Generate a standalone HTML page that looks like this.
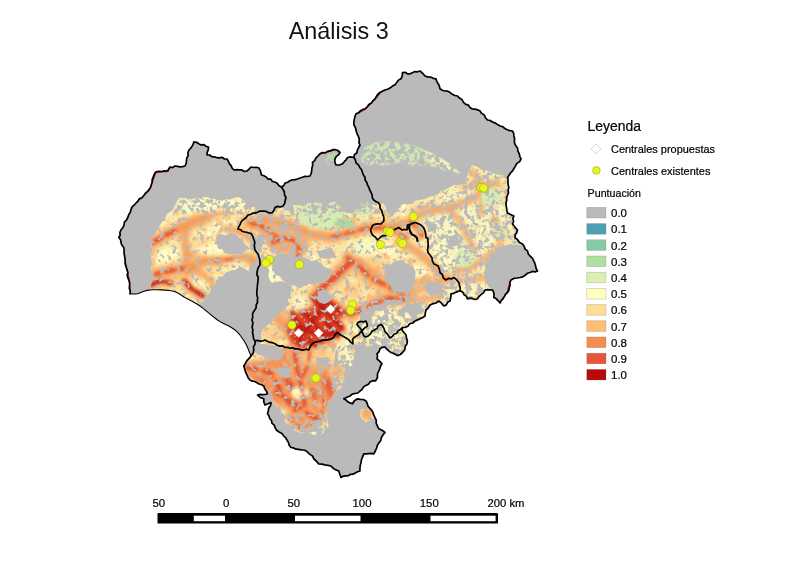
<!DOCTYPE html>
<html><head><meta charset="utf-8"><title>Análisis 3</title>
<style>html,body{margin:0;padding:0;background:#fff;font-family:"Liberation Sans",sans-serif}</style></head>
<body>
<svg width="800" height="566" viewBox="0 0 800 566" style="display:block">
<defs>
<clipPath id="mc"><path d="M194.0,142.0 L196.6,142.3 L198.8,143.8 L201.1,144.9 L203.9,144.7 L206.0,146.4 L208.5,147.0 L208.3,149.7 L207.2,152.3 L207.0,155.0 L209.6,155.0 L211.9,156.7 L214.4,156.8 L216.9,157.7 L219.4,157.8 L222.1,157.3 L224.4,159.0 L227.0,159.0 L228.4,161.2 L229.3,163.7 L231.1,165.6 L232.1,168.1 L234.0,170.0 L236.6,169.6 L239.2,169.8 L241.9,169.9 L244.4,171.4 L247.0,171.0 L249.1,169.1 L251.0,167.0 L253.6,167.5 L256.4,167.3 L259.0,168.0 L260.6,171.4 L261.5,175.0 L263.9,175.8 L266.2,176.9 L267.9,179.1 L270.8,179.1 L272.4,181.5 L275.0,182.0 L277.4,183.4 L279.0,185.7 L281.5,187.0 L283.8,185.5 L285.0,183.0 L287.6,182.4 L289.8,180.8 L292.3,179.9 L295.0,179.6 L297.5,179.0 L300.0,178.0 L302.5,177.3 L304.9,176.4 L307.5,176.5 L310.0,176.0 L311.2,173.4 L311.7,170.7 L311.9,168.0 L312.7,165.3 L312.5,162.5 L314.7,160.6 L316.0,157.9 L318.1,155.9 L320.0,153.8 L322.3,152.5 L325.2,152.9 L327.4,151.4 L330.0,150.9 L332.4,149.7 L335.0,149.5 L337.8,150.5 L340.0,152.5 L338.6,154.8 L336.4,156.4 L335.0,158.8 L334.8,162.0 L336.0,165.0 L339.4,165.0 L342.5,163.8 L344.3,161.7 L346.1,159.8 L347.5,157.5 L350.6,156.9 L353.8,157.5 L354.4,154.7 L356.9,152.8 L357.4,149.9 L358.7,147.5 L360.0,145.0 L358.9,142.6 L359.3,139.8 L358.8,137.3 L357.6,134.9 L356.6,132.5 L356.0,130.0 L355.4,127.5 L354.0,125.1 L353.8,122.5 L354.3,119.5 L354.9,116.6 L356.0,113.8 L358.5,112.9 L360.3,110.9 L362.6,109.6 L365.0,108.8 L367.2,106.9 L368.8,104.5 L371.4,103.1 L373.0,100.7 L375.0,98.8 L376.4,96.5 L377.8,94.2 L380.0,92.5 L382.8,90.9 L385.8,89.8 L388.8,88.8 L391.0,87.3 L393.0,85.7 L395.4,84.4 L396.9,82.1 L398.6,80.0 L401.0,78.8 L402.3,75.7 L402.5,72.5 L405.1,72.3 L407.4,73.8 L410.0,73.8 L412.4,72.7 L414.8,71.6 L417.5,71.8 L420.0,71.0 L422.7,73.3 L425.0,76.0 L427.7,76.9 L430.6,77.1 L433.2,78.3 L436.0,78.8 L436.7,81.4 L438.2,83.7 L439.4,86.1 L440.0,88.8 L442.3,90.3 L444.9,91.0 L447.8,91.2 L450.1,92.6 L452.4,94.2 L454.8,95.5 L457.5,96.0 L459.4,98.1 L462.0,99.5 L463.3,102.2 L465.4,104.1 L468.3,105.1 L470.0,107.5 L472.3,109.0 L475.0,109.2 L477.6,109.8 L480.0,111.0 L481.7,113.4 L484.3,115.0 L485.5,117.8 L487.5,120.0 L490.3,120.5 L492.6,122.1 L495.3,123.0 L497.6,124.6 L500.0,126.0 L502.7,126.6 L504.8,128.5 L507.2,129.7 L509.8,130.6 L512.5,131.0 L513.7,133.3 L513.9,135.9 L514.6,138.4 L514.4,141.1 L514.7,143.7 L516.0,146.0 L517.6,148.3 L517.9,151.1 L519.2,153.6 L519.8,156.3 L521.0,158.8 L519.7,161.6 L516.9,163.4 L515.4,166.1 L513.8,168.8 L512.4,171.1 L510.5,173.0 L509.1,175.3 L507.5,177.5 L508.1,180.0 L507.9,182.5 L508.2,185.0 L508.8,187.5 L508.1,190.0 L508.5,192.6 L507.6,195.0 L506.6,197.4 L506.8,200.0 L506.1,202.5 L506.0,205.0 L506.5,207.7 L506.9,210.4 L507.5,213.0 L510.6,214.5 L513.8,216.0 L512.9,218.6 L513.6,221.4 L512.5,224.0 L514.1,226.0 L515.7,228.1 L517.5,230.0 L516.8,232.5 L515.2,234.8 L515.0,237.5 L517.5,239.6 L519.5,242.4 L522.5,244.0 L524.2,246.3 L525.0,249.1 L527.5,250.9 L528.2,253.8 L530.0,256.0 L532.4,258.1 L533.8,261.0 L534.9,263.4 L535.6,266.0 L536.2,268.6 L537.5,271.0 L535.1,271.9 L532.4,271.4 L530.0,272.5 L527.3,273.3 L525.1,275.3 L522.8,276.9 L520.0,277.5 L516.9,278.0 L513.8,278.4 L511.0,280.0 L509.9,282.4 L510.1,285.1 L509.3,287.6 L508.9,290.2 L507.5,292.5 L505.5,294.3 L504.4,296.6 L503.0,298.8 L501.2,300.7 L500.0,303.0 L498.2,300.8 L496.3,298.8 L493.8,297.5 L494.0,294.9 L493.7,292.4 L492.5,290.0 L490.0,289.8 L487.5,289.7 L485.0,290.0 L483.6,292.6 L481.3,294.4 L479.1,296.3 L477.5,298.8 L475.0,299.5 L472.5,298.7 L470.0,298.2 L467.5,298.8 L466.4,296.4 L464.2,294.9 L463.0,292.7 L461.0,291.0 L458.8,291.0 L456.2,292.1 L453.8,293.3 L451.0,293.8 L450.8,297.4 L450.0,301.0 L447.6,302.3 L446.3,304.9 L443.8,306.0 L441.5,303.2 L438.8,301.0 L435.9,303.0 L432.5,303.8 L429.8,305.3 L428.2,308.0 L426.0,310.0 L425.3,313.0 L425.0,316.0 L422.7,317.6 L420.1,318.8 L417.6,319.9 L415.0,321.0 L412.8,323.0 L409.7,323.8 L407.8,326.3 L405.0,327.5 L402.5,327.5 L402.0,330.0 L403.9,332.5 L406.0,335.0 L406.5,337.9 L407.4,340.7 L407.0,343.8 L405.2,346.5 L404.7,349.9 L402.5,352.5 L400.3,354.5 L397.5,355.6 L394.3,353.8 L391.0,352.5 L388.8,350.9 L386.8,349.1 L385.0,347.0 L382.3,347.3 L380.0,348.8 L379.1,351.6 L377.0,353.8 L377.5,356.2 L377.0,358.8 L379.6,361.2 L382.0,363.8 L380.6,366.0 L379.8,368.6 L378.8,371.0 L377.4,374.1 L377.5,377.5 L375.6,380.8 L372.7,380.7 L370.0,382.0 L368.4,384.2 L365.8,385.4 L363.6,386.9 L362.1,389.3 L360.0,391.0 L357.9,393.0 L355.0,393.5 L352.2,394.1 L350.0,396.0 L346.9,397.3 L343.8,398.8 L346.0,399.9 L347.8,401.8 L350.1,402.9 L352.5,403.8 L354.4,400.7 L357.5,398.8 L360.4,399.3 L363.4,399.5 L366.0,401.0 L367.2,403.4 L367.9,406.0 L369.7,408.1 L371.6,410.1 L372.9,412.4 L373.8,415.0 L375.0,417.7 L376.3,420.3 L376.2,423.4 L377.5,426.1 L378.8,428.8 L382.1,430.3 L385.0,432.5 L383.1,434.7 L381.5,437.2 L380.9,440.2 L379.2,442.6 L377.5,445.0 L376.6,448.1 L375.3,451.0 L373.8,453.8 L371.2,453.4 L368.8,453.6 L366.2,453.9 L363.8,453.8 L362.7,456.6 L361.5,459.5 L361.0,462.5 L360.3,465.3 L359.9,468.1 L360.0,471.0 L357.6,471.7 L355.3,472.9 L353.1,474.2 L350.5,474.3 L348.3,475.7 L345.8,475.9 L343.2,476.2 L341.0,477.5 L339.8,474.3 L338.8,471.0 L335.8,469.9 L333.2,468.3 L331.0,466.0 L327.9,465.4 L324.9,464.8 L321.9,464.1 L318.8,463.8 L316.5,461.3 L314.0,459.0 L312.5,456.0 L310.3,454.6 L308.2,452.9 L306.3,451.0 L303.8,450.0 L301.1,449.9 L298.6,449.4 L296.0,449.2 L293.6,447.9 L291.0,447.5 L289.3,445.4 L288.5,442.6 L287.1,440.3 L285.8,437.9 L283.8,436.0 L281.9,433.5 L279.1,432.0 L276.6,430.2 L275.0,427.5 L274.1,425.0 L271.9,423.2 L271.5,420.5 L269.7,418.5 L269.0,415.9 L267.5,413.8 L268.3,410.9 L268.8,408.0 L270.6,405.5 L271.0,402.5 L268.0,403.8 L265.0,405.0 L263.8,402.0 L263.8,398.8 L260.2,397.5 L257.5,395.0 L260.0,394.4 L262.5,394.7 L265.1,394.5 L267.5,393.8 L266.4,391.1 L264.7,388.7 L263.8,386.0 L261.6,384.7 L259.2,384.0 L257.0,382.7 L254.8,381.5 L252.2,381.2 L250.0,380.0 L248.1,377.8 L247.1,375.2 L245.8,372.7 L245.0,370.0 L243.8,366.0 L245.5,363.4 L246.9,360.7 L249.1,358.4 L251.0,356.0 L250.4,354.5 L249.6,352.5 L248.6,350.0 L247.5,347.4 L246.3,344.8 L245.0,342.5 L243.7,340.3 L242.2,338.2 L240.7,336.0 L239.0,333.9 L237.1,331.9 L235.0,330.0 L232.5,328.2 L229.7,326.6 L226.7,325.1 L223.6,323.5 L220.5,321.9 L217.5,320.0 L214.6,317.8 L211.6,315.4 L208.6,312.9 L205.6,310.4 L202.8,308.1 L200.0,306.0 L197.3,304.2 L194.7,302.7 L192.2,301.3 L189.7,300.0 L187.3,298.7 L185.0,297.5 L182.9,296.2 L181.0,295.0 L179.2,293.8 L177.3,292.7 L175.1,291.7 L172.5,291.0 L169.2,290.5 L165.4,290.1 L161.2,289.9 L157.1,289.8 L153.3,289.8 L150.0,290.0 L147.3,290.4 L144.9,291.0 L142.8,291.8 L140.9,292.6 L139.2,293.3 L137.5,293.8 L135.9,294.0 L134.4,294.0 L133.0,294.0 L131.8,293.9 L130.8,293.8 L130.0,293.8 L130.2,291.0 L129.3,288.3 L129.6,285.5 L129.6,282.7 L128.8,280.0 L127.8,277.6 L127.2,275.1 L127.9,272.3 L127.0,269.9 L126.3,267.4 L125.5,265.0 L125.0,262.5 L125.2,260.0 L124.8,257.5 L124.4,255.0 L124.0,252.5 L124.1,250.0 L123.8,247.5 L121.9,245.3 L121.0,242.6 L120.6,239.7 L118.8,237.5 L120.2,235.2 L119.9,232.4 L121.0,230.0 L122.8,227.7 L124.1,225.2 L124.4,222.1 L126.5,220.0 L127.8,217.5 L128.7,214.8 L130.2,212.4 L131.0,209.6 L132.0,207.0 L134.1,205.2 L135.8,203.2 L137.9,201.4 L139.2,198.9 L141.9,197.8 L143.7,195.8 L145.2,193.4 L147.3,191.7 L149.0,189.6 L150.6,187.3 L151.3,184.7 L152.1,182.2 L152.2,179.3 L153.3,176.9 L154.2,174.4 L155.6,172.0 L158.5,171.3 L161.6,171.5 L164.5,170.8 L167.5,171.0 L170.0,167.0 L172.5,167.6 L175.0,166.0 L177.5,166.4 L180.0,166.9 L182.5,166.6 L185.0,166.0 L186.2,163.5 L186.5,160.7 L186.8,157.9 L188.2,155.5 L187.9,152.5 L189.0,150.0 L191.2,147.7 L192.8,144.9 Z"/></clipPath>
<clipPath id="hc"><path d="M179.5,197.5 L177.2,200.9 L175.4,204.7 L173.5,208.4 L171.0,211.7 L166.9,214.0 L165.4,217.9 L162.9,221.2 L160.4,224.5 L158.1,228.0 L156.2,231.7 L154.4,235.5 L151.6,238.6 L151.8,242.7 L151.5,246.8 L152.5,250.9 L150.6,255.0 L151.6,259.1 L151.6,263.2 L151.1,267.4 L152.4,271.5 L150.8,275.6 L152.3,279.7 L151.5,283.8 L150.3,287.9 L151.0,292.0 L155.2,292.8 L159.3,292.4 L163.5,292.0 L167.7,291.8 L171.8,292.4 L176.0,292.0 L180.8,295.4 L186.0,298.0 L190.3,300.8 L195.1,302.6 L200.0,304.0 L203.7,300.3 L206.5,295.8 L210.0,292.0 L211.0,287.8 L214.7,285.1 L216.0,281.0 L219.2,278.0 L222.9,275.9 L225.9,272.6 L230.0,271.0 L235.5,269.4 L240.0,266.0 L245.1,268.8 L250.0,272.0 L257.0,270.0 L256.6,266.0 L256.0,262.0 L256.1,257.5 L255.5,253.0 L256.5,248.5 L255.4,244.0 L255.0,239.5 L255.0,235.0 L250.9,233.0 L246.8,231.2 L242.6,229.6 L238.0,229.0 L240.0,225.2 L242.3,221.5 L246.4,219.2 L248.0,215.0 L252.0,213.8 L256.2,213.6 L260.3,213.2 L264.0,211.0 L259.3,209.4 L254.8,207.2 L250.0,206.0 L245.8,203.3 L242.6,199.2 L238.0,197.0 L234.0,198.0 L230.2,199.7 L225.9,199.5 L222.0,201.0 L216.4,199.7 L211.0,198.0 L206.5,196.8 L202.0,197.6 L197.5,198.5 L193.0,198.4 L188.5,198.0 L184.0,198.4 Z"/><path d="M250.0,215.0 L254.4,214.7 L258.7,213.0 L263.1,213.2 L267.5,212.4 L272.0,213.0 L275.5,210.7 L279.1,208.6 L283.0,207.0 L287.1,205.7 L291.5,205.6 L295.8,205.1 L300.0,204.0 L304.3,204.8 L308.6,203.4 L312.8,203.3 L317.1,202.3 L321.4,203.2 L325.7,203.7 L330.0,203.0 L334.2,201.7 L338.6,203.8 L342.9,203.3 L347.1,201.5 L351.5,203.2 L355.7,202.2 L360.0,202.0 L364.6,202.9 L369.3,202.5 L374.0,203.0 L378.3,204.0 L382.7,203.6 L386.9,205.0 L391.3,204.9 L395.5,206.5 L400.0,206.0 L403.7,203.9 L408.1,204.0 L412.3,203.5 L415.8,200.4 L420.0,200.0 L424.4,199.1 L428.5,197.3 L432.6,195.7 L437.0,195.0 L440.7,191.4 L445.7,189.8 L450.0,187.0 L454.8,184.8 L460.3,184.5 L465.0,182.0 L466.8,177.8 L467.5,173.1 L470.0,169.2 L472.0,165.0 L477.3,166.9 L482.0,170.0 L486.7,170.6 L491.1,172.2 L495.4,174.1 L500.0,175.0 L504.5,175.7 L509.0,176.0 L509.1,181.5 L510.0,187.0 L508.8,191.4 L509.1,196.1 L508.1,200.6 L507.0,205.0 L510.5,208.1 L513.2,211.7 L515.0,216.0 L515.0,220.1 L514.0,224.0 L519.0,230.0 L516.0,237.0 L520.3,240.2 L524.0,244.0 L520.0,244.8 L515.9,244.1 L511.9,244.9 L507.9,244.8 L503.9,246.0 L500.0,247.0 L497.9,250.7 L494.1,252.8 L491.2,255.6 L489.7,259.8 L486.0,262.0 L486.7,266.0 L486.2,270.0 L485.7,274.0 L485.9,278.0 L486.0,282.0 L488.2,286.6 L492.0,290.0 L485.0,291.0 L482.8,294.5 L479.6,296.9 L477.0,300.0 L472.0,299.4 L467.0,300.0 L464.6,295.6 L461.0,292.0 L455.7,292.4 L451.0,295.0 L451.0,302.0 L447.5,304.5 L444.0,307.0 L439.0,302.0 L432.0,305.0 L427.0,311.0 L426.0,317.0 L421.9,317.7 L418.6,320.3 L415.0,322.0 L410.4,324.8 L406.0,328.0 L407.3,332.9 L407.4,338.0 L408.0,343.0 L406.7,347.0 L404.5,350.6 L402.0,354.0 L397.0,357.0 L391.0,354.0 L385.0,349.0 L380.7,348.0 L376.3,347.2 L372.0,346.0 L367.2,346.5 L362.5,345.6 L357.8,345.1 L353.0,345.0 L348.4,345.6 L344.2,347.3 L340.0,349.0 L335.8,350.1 L331.4,348.4 L327.1,348.8 L322.9,351.0 L318.6,351.5 L314.3,351.1 L310.0,351.0 L305.8,350.5 L301.7,349.8 L297.6,348.5 L293.2,350.2 L289.0,349.6 L285.0,348.0 L281.4,346.0 L277.6,344.7 L273.8,343.5 L269.6,343.7 L265.5,343.3 L262.0,341.0 L261.2,335.5 L262.0,330.0 L265.8,326.7 L269.4,323.2 L271.3,318.4 L275.0,315.0 L278.7,312.0 L280.7,307.5 L284.4,304.5 L286.3,300.0 L290.0,297.0 L291.4,291.6 L292.0,286.0 L288.2,283.9 L284.4,281.7 L280.0,281.0 L275.3,281.7 L270.8,282.9 L266.4,284.4 L262.0,286.0 L261.5,281.9 L260.3,277.8 L261.6,273.5 L259.9,269.5 L260.6,265.3 L260.9,261.1 L260.0,257.0 L258.9,252.6 L259.0,248.0 L256.2,244.0 L256.7,239.2 L255.0,235.0 L250.4,234.4 L246.2,232.9 L242.1,231.0 L238.0,229.0 L239.2,225.0 L242.0,222.0 L245.4,217.8 Z"/><path d="M246.0,362.0 L248.9,357.9 L252.0,354.0 L254.8,351.0 L257.0,347.5 L259.7,344.4 L262.0,341.0 L266.3,341.6 L270.2,343.9 L274.8,343.2 L279.1,343.5 L283.3,344.4 L287.3,346.6 L291.6,347.2 L295.8,348.1 L300.0,349.0 L304.0,348.0 L308.0,348.7 L312.0,350.1 L316.0,349.5 L320.0,349.3 L324.0,348.6 L328.0,348.2 L332.0,347.8 L336.0,348.2 L340.0,349.0 L344.3,347.1 L348.7,345.9 L353.0,344.0 L354.6,348.5 L354.9,353.2 L355.0,358.0 L353.0,361.5 L351.8,365.5 L348.1,368.0 L347.0,372.0 L345.4,376.0 L345.1,380.4 L342.2,383.9 L341.0,388.0 L337.6,391.0 L334.8,394.5 L332.0,398.0 L329.8,401.9 L328.0,406.0 L326.0,410.0 L326.6,415.1 L327.3,420.1 L329.0,425.0 L326.8,429.1 L323.8,432.4 L320.0,435.0 L314.9,435.0 L310.0,433.4 L305.0,433.0 L299.7,432.7 L295.0,430.2 L290.0,429.0 L286.3,425.3 L284.5,420.4 L282.0,416.0 L280.3,411.9 L277.8,408.3 L275.0,405.0 L273.3,400.7 L272.4,396.1 L270.0,392.0 L266.2,388.7 L262.0,386.0 L258.1,384.0 L254.2,382.2 L250.0,381.0 L248.6,377.2 L245.9,374.0 L245.0,370.0 L244.5,365.9 Z"/><path d="M361.0,409.0 L366.1,409.1 L371.0,408.0 L371.4,413.3 L374.0,418.0 L370.1,420.3 L366.0,422.0 L362.4,419.6 L360.0,416.0 Z"/></clipPath>
<clipPath id="nc"><path d="M361.0,149.0 L375.0,142.0 L395.0,140.5 L415.0,145.0 L435.0,154.0 L452.0,165.0 L462.0,174.0 L450.0,173.0 L438.0,168.0 L425.0,166.0 L412.0,166.0 L400.0,163.0 L385.0,166.0 L370.0,166.0 L361.0,163.0 Z"/><path d="M321.0,154.0 L335.0,150.0 L339.0,153.0 L334.0,160.0 L338.0,167.0 L328.0,166.0 Z"/></clipPath>
<filter id="b1" x="-30%" y="-30%" width="160%" height="160%"><feGaussianBlur stdDeviation="0.7"/></filter>
<filter id="b2" x="-30%" y="-30%" width="160%" height="160%"><feGaussianBlur stdDeviation="1.5"/></filter>
<filter id="b3" x="-30%" y="-30%" width="160%" height="160%"><feGaussianBlur stdDeviation="2.6"/></filter>
<filter id="b4" x="-30%" y="-30%" width="160%" height="160%"><feGaussianBlur stdDeviation="4"/></filter>
<filter id="ng" x="0" y="0" width="100%" height="100%" color-interpolation-filters="sRGB"><feTurbulence type="fractalNoise" baseFrequency="0.22" numOctaves="2" seed="5"/><feColorMatrix values="0 0 0 0 0.729  0 0 0 0 0.729  0 0 0 0 0.729  9 0 0 0 -5.15"/><feComposite in2="SourceGraphic" operator="in"/></filter>
<filter id="no" x="0" y="0" width="100%" height="100%" color-interpolation-filters="sRGB"><feTurbulence type="fractalNoise" baseFrequency="0.12" numOctaves="2" seed="9"/><feColorMatrix values="0 0 0 0 0.976  0 0 0 0 0.647  0 0 0 0 0.369  7 0 0 0 -3.9"/><feComposite in2="SourceGraphic" operator="in"/></filter>
<filter id="ny" x="0" y="0" width="100%" height="100%" color-interpolation-filters="sRGB"><feTurbulence type="fractalNoise" baseFrequency="0.15" numOctaves="2" seed="14"/><feColorMatrix values="0 0 0 0 1.000  0 0 0 0 0.988  0 0 0 0 0.761  7 0 0 0 -3.9"/><feComposite in2="SourceGraphic" operator="in"/></filter>
<filter id="nn" x="0" y="0" width="100%" height="100%" color-interpolation-filters="sRGB"><feTurbulence type="fractalNoise" baseFrequency="0.2" numOctaves="2" seed="21"/><feColorMatrix values="0 0 0 0 0.729  0 0 0 0 0.729  0 0 0 0 0.729  8 0 0 0 -3.7"/><feComposite in2="SourceGraphic" operator="in"/></filter>
<filter id="g35" x="0" y="0" width="100%" height="100%" color-interpolation-filters="sRGB"><feTurbulence type="fractalNoise" baseFrequency="0.2" numOctaves="2" seed="31"/><feColorMatrix values="0 0 0 0 0.729  0 0 0 0 0.729  0 0 0 0 0.729  9 0 0 0 -4.45"/><feComposite in2="SourceGraphic" operator="in"/></filter>
<filter id="g25" x="0" y="0" width="100%" height="100%" color-interpolation-filters="sRGB"><feTurbulence type="fractalNoise" baseFrequency="0.2" numOctaves="2" seed="33"/><feColorMatrix values="0 0 0 0 0.729  0 0 0 0 0.729  0 0 0 0 0.729  9 0 0 0 -4.7"/><feComposite in2="SourceGraphic" operator="in"/></filter>
<filter id="g50" x="0" y="0" width="100%" height="100%" color-interpolation-filters="sRGB"><feTurbulence type="fractalNoise" baseFrequency="0.18" numOctaves="2" seed="41"/><feColorMatrix values="0 0 0 0 0.729  0 0 0 0 0.729  0 0 0 0 0.729  9 0 0 0 -4.0"/><feComposite in2="SourceGraphic" operator="in"/></filter>
<filter id="g65" x="0" y="0" width="100%" height="100%" color-interpolation-filters="sRGB"><feTurbulence type="fractalNoise" baseFrequency="0.18" numOctaves="2" seed="51"/><feColorMatrix values="0 0 0 0 0.729  0 0 0 0 0.729  0 0 0 0 0.729  9 0 0 0 -3.6"/><feComposite in2="SourceGraphic" operator="in"/></filter>
</defs>
<rect width="800" height="566" fill="#fff"/>
<path d="M194.0,142.0 L196.6,142.3 L198.8,143.8 L201.1,144.9 L203.9,144.7 L206.0,146.4 L208.5,147.0 L208.3,149.7 L207.2,152.3 L207.0,155.0 L209.6,155.0 L211.9,156.7 L214.4,156.8 L216.9,157.7 L219.4,157.8 L222.1,157.3 L224.4,159.0 L227.0,159.0 L228.4,161.2 L229.3,163.7 L231.1,165.6 L232.1,168.1 L234.0,170.0 L236.6,169.6 L239.2,169.8 L241.9,169.9 L244.4,171.4 L247.0,171.0 L249.1,169.1 L251.0,167.0 L253.6,167.5 L256.4,167.3 L259.0,168.0 L260.6,171.4 L261.5,175.0 L263.9,175.8 L266.2,176.9 L267.9,179.1 L270.8,179.1 L272.4,181.5 L275.0,182.0 L277.4,183.4 L279.0,185.7 L281.5,187.0 L283.8,185.5 L285.0,183.0 L287.6,182.4 L289.8,180.8 L292.3,179.9 L295.0,179.6 L297.5,179.0 L300.0,178.0 L302.5,177.3 L304.9,176.4 L307.5,176.5 L310.0,176.0 L311.2,173.4 L311.7,170.7 L311.9,168.0 L312.7,165.3 L312.5,162.5 L314.7,160.6 L316.0,157.9 L318.1,155.9 L320.0,153.8 L322.3,152.5 L325.2,152.9 L327.4,151.4 L330.0,150.9 L332.4,149.7 L335.0,149.5 L337.8,150.5 L340.0,152.5 L338.6,154.8 L336.4,156.4 L335.0,158.8 L334.8,162.0 L336.0,165.0 L339.4,165.0 L342.5,163.8 L344.3,161.7 L346.1,159.8 L347.5,157.5 L350.6,156.9 L353.8,157.5 L354.4,154.7 L356.9,152.8 L357.4,149.9 L358.7,147.5 L360.0,145.0 L358.9,142.6 L359.3,139.8 L358.8,137.3 L357.6,134.9 L356.6,132.5 L356.0,130.0 L355.4,127.5 L354.0,125.1 L353.8,122.5 L354.3,119.5 L354.9,116.6 L356.0,113.8 L358.5,112.9 L360.3,110.9 L362.6,109.6 L365.0,108.8 L367.2,106.9 L368.8,104.5 L371.4,103.1 L373.0,100.7 L375.0,98.8 L376.4,96.5 L377.8,94.2 L380.0,92.5 L382.8,90.9 L385.8,89.8 L388.8,88.8 L391.0,87.3 L393.0,85.7 L395.4,84.4 L396.9,82.1 L398.6,80.0 L401.0,78.8 L402.3,75.7 L402.5,72.5 L405.1,72.3 L407.4,73.8 L410.0,73.8 L412.4,72.7 L414.8,71.6 L417.5,71.8 L420.0,71.0 L422.7,73.3 L425.0,76.0 L427.7,76.9 L430.6,77.1 L433.2,78.3 L436.0,78.8 L436.7,81.4 L438.2,83.7 L439.4,86.1 L440.0,88.8 L442.3,90.3 L444.9,91.0 L447.8,91.2 L450.1,92.6 L452.4,94.2 L454.8,95.5 L457.5,96.0 L459.4,98.1 L462.0,99.5 L463.3,102.2 L465.4,104.1 L468.3,105.1 L470.0,107.5 L472.3,109.0 L475.0,109.2 L477.6,109.8 L480.0,111.0 L481.7,113.4 L484.3,115.0 L485.5,117.8 L487.5,120.0 L490.3,120.5 L492.6,122.1 L495.3,123.0 L497.6,124.6 L500.0,126.0 L502.7,126.6 L504.8,128.5 L507.2,129.7 L509.8,130.6 L512.5,131.0 L513.7,133.3 L513.9,135.9 L514.6,138.4 L514.4,141.1 L514.7,143.7 L516.0,146.0 L517.6,148.3 L517.9,151.1 L519.2,153.6 L519.8,156.3 L521.0,158.8 L519.7,161.6 L516.9,163.4 L515.4,166.1 L513.8,168.8 L512.4,171.1 L510.5,173.0 L509.1,175.3 L507.5,177.5 L508.1,180.0 L507.9,182.5 L508.2,185.0 L508.8,187.5 L508.1,190.0 L508.5,192.6 L507.6,195.0 L506.6,197.4 L506.8,200.0 L506.1,202.5 L506.0,205.0 L506.5,207.7 L506.9,210.4 L507.5,213.0 L510.6,214.5 L513.8,216.0 L512.9,218.6 L513.6,221.4 L512.5,224.0 L514.1,226.0 L515.7,228.1 L517.5,230.0 L516.8,232.5 L515.2,234.8 L515.0,237.5 L517.5,239.6 L519.5,242.4 L522.5,244.0 L524.2,246.3 L525.0,249.1 L527.5,250.9 L528.2,253.8 L530.0,256.0 L532.4,258.1 L533.8,261.0 L534.9,263.4 L535.6,266.0 L536.2,268.6 L537.5,271.0 L535.1,271.9 L532.4,271.4 L530.0,272.5 L527.3,273.3 L525.1,275.3 L522.8,276.9 L520.0,277.5 L516.9,278.0 L513.8,278.4 L511.0,280.0 L509.9,282.4 L510.1,285.1 L509.3,287.6 L508.9,290.2 L507.5,292.5 L505.5,294.3 L504.4,296.6 L503.0,298.8 L501.2,300.7 L500.0,303.0 L498.2,300.8 L496.3,298.8 L493.8,297.5 L494.0,294.9 L493.7,292.4 L492.5,290.0 L490.0,289.8 L487.5,289.7 L485.0,290.0 L483.6,292.6 L481.3,294.4 L479.1,296.3 L477.5,298.8 L475.0,299.5 L472.5,298.7 L470.0,298.2 L467.5,298.8 L466.4,296.4 L464.2,294.9 L463.0,292.7 L461.0,291.0 L458.8,291.0 L456.2,292.1 L453.8,293.3 L451.0,293.8 L450.8,297.4 L450.0,301.0 L447.6,302.3 L446.3,304.9 L443.8,306.0 L441.5,303.2 L438.8,301.0 L435.9,303.0 L432.5,303.8 L429.8,305.3 L428.2,308.0 L426.0,310.0 L425.3,313.0 L425.0,316.0 L422.7,317.6 L420.1,318.8 L417.6,319.9 L415.0,321.0 L412.8,323.0 L409.7,323.8 L407.8,326.3 L405.0,327.5 L402.5,327.5 L402.0,330.0 L403.9,332.5 L406.0,335.0 L406.5,337.9 L407.4,340.7 L407.0,343.8 L405.2,346.5 L404.7,349.9 L402.5,352.5 L400.3,354.5 L397.5,355.6 L394.3,353.8 L391.0,352.5 L388.8,350.9 L386.8,349.1 L385.0,347.0 L382.3,347.3 L380.0,348.8 L379.1,351.6 L377.0,353.8 L377.5,356.2 L377.0,358.8 L379.6,361.2 L382.0,363.8 L380.6,366.0 L379.8,368.6 L378.8,371.0 L377.4,374.1 L377.5,377.5 L375.6,380.8 L372.7,380.7 L370.0,382.0 L368.4,384.2 L365.8,385.4 L363.6,386.9 L362.1,389.3 L360.0,391.0 L357.9,393.0 L355.0,393.5 L352.2,394.1 L350.0,396.0 L346.9,397.3 L343.8,398.8 L346.0,399.9 L347.8,401.8 L350.1,402.9 L352.5,403.8 L354.4,400.7 L357.5,398.8 L360.4,399.3 L363.4,399.5 L366.0,401.0 L367.2,403.4 L367.9,406.0 L369.7,408.1 L371.6,410.1 L372.9,412.4 L373.8,415.0 L375.0,417.7 L376.3,420.3 L376.2,423.4 L377.5,426.1 L378.8,428.8 L382.1,430.3 L385.0,432.5 L383.1,434.7 L381.5,437.2 L380.9,440.2 L379.2,442.6 L377.5,445.0 L376.6,448.1 L375.3,451.0 L373.8,453.8 L371.2,453.4 L368.8,453.6 L366.2,453.9 L363.8,453.8 L362.7,456.6 L361.5,459.5 L361.0,462.5 L360.3,465.3 L359.9,468.1 L360.0,471.0 L357.6,471.7 L355.3,472.9 L353.1,474.2 L350.5,474.3 L348.3,475.7 L345.8,475.9 L343.2,476.2 L341.0,477.5 L339.8,474.3 L338.8,471.0 L335.8,469.9 L333.2,468.3 L331.0,466.0 L327.9,465.4 L324.9,464.8 L321.9,464.1 L318.8,463.8 L316.5,461.3 L314.0,459.0 L312.5,456.0 L310.3,454.6 L308.2,452.9 L306.3,451.0 L303.8,450.0 L301.1,449.9 L298.6,449.4 L296.0,449.2 L293.6,447.9 L291.0,447.5 L289.3,445.4 L288.5,442.6 L287.1,440.3 L285.8,437.9 L283.8,436.0 L281.9,433.5 L279.1,432.0 L276.6,430.2 L275.0,427.5 L274.1,425.0 L271.9,423.2 L271.5,420.5 L269.7,418.5 L269.0,415.9 L267.5,413.8 L268.3,410.9 L268.8,408.0 L270.6,405.5 L271.0,402.5 L268.0,403.8 L265.0,405.0 L263.8,402.0 L263.8,398.8 L260.2,397.5 L257.5,395.0 L260.0,394.4 L262.5,394.7 L265.1,394.5 L267.5,393.8 L266.4,391.1 L264.7,388.7 L263.8,386.0 L261.6,384.7 L259.2,384.0 L257.0,382.7 L254.8,381.5 L252.2,381.2 L250.0,380.0 L248.1,377.8 L247.1,375.2 L245.8,372.7 L245.0,370.0 L243.8,366.0 L245.5,363.4 L246.9,360.7 L249.1,358.4 L251.0,356.0 L250.4,354.5 L249.6,352.5 L248.6,350.0 L247.5,347.4 L246.3,344.8 L245.0,342.5 L243.7,340.3 L242.2,338.2 L240.7,336.0 L239.0,333.9 L237.1,331.9 L235.0,330.0 L232.5,328.2 L229.7,326.6 L226.7,325.1 L223.6,323.5 L220.5,321.9 L217.5,320.0 L214.6,317.8 L211.6,315.4 L208.6,312.9 L205.6,310.4 L202.8,308.1 L200.0,306.0 L197.3,304.2 L194.7,302.7 L192.2,301.3 L189.7,300.0 L187.3,298.7 L185.0,297.5 L182.9,296.2 L181.0,295.0 L179.2,293.8 L177.3,292.7 L175.1,291.7 L172.5,291.0 L169.2,290.5 L165.4,290.1 L161.2,289.9 L157.1,289.8 L153.3,289.8 L150.0,290.0 L147.3,290.4 L144.9,291.0 L142.8,291.8 L140.9,292.6 L139.2,293.3 L137.5,293.8 L135.9,294.0 L134.4,294.0 L133.0,294.0 L131.8,293.9 L130.8,293.8 L130.0,293.8 L130.2,291.0 L129.3,288.3 L129.6,285.5 L129.6,282.7 L128.8,280.0 L127.8,277.6 L127.2,275.1 L127.9,272.3 L127.0,269.9 L126.3,267.4 L125.5,265.0 L125.0,262.5 L125.2,260.0 L124.8,257.5 L124.4,255.0 L124.0,252.5 L124.1,250.0 L123.8,247.5 L121.9,245.3 L121.0,242.6 L120.6,239.7 L118.8,237.5 L120.2,235.2 L119.9,232.4 L121.0,230.0 L122.8,227.7 L124.1,225.2 L124.4,222.1 L126.5,220.0 L127.8,217.5 L128.7,214.8 L130.2,212.4 L131.0,209.6 L132.0,207.0 L134.1,205.2 L135.8,203.2 L137.9,201.4 L139.2,198.9 L141.9,197.8 L143.7,195.8 L145.2,193.4 L147.3,191.7 L149.0,189.6 L150.6,187.3 L151.3,184.7 L152.1,182.2 L152.2,179.3 L153.3,176.9 L154.2,174.4 L155.6,172.0 L158.5,171.3 L161.6,171.5 L164.5,170.8 L167.5,171.0 L170.0,167.0 L172.5,167.6 L175.0,166.0 L177.5,166.4 L180.0,166.9 L182.5,166.6 L185.0,166.0 L186.2,163.5 L186.5,160.7 L186.8,157.9 L188.2,155.5 L187.9,152.5 L189.0,150.0 L191.2,147.7 L192.8,144.9 Z" fill="#bababa"/>
<g clip-path="url(#mc)">
<g clip-path="url(#nc)"><g filter="url(#b2)"><path d="M361.0,149.0 L375.0,142.0 L395.0,140.5 L415.0,145.0 L435.0,154.0 L452.0,165.0 L462.0,174.0 L450.0,173.0 L438.0,168.0 L425.0,166.0 L412.0,166.0 L400.0,163.0 L385.0,166.0 L370.0,166.0 L361.0,163.0 Z" fill="#cfe6b4"/><path d="M425,150 L445,158 L462,172 L450,172 L430,162 Z" fill="#f6f0bb"/><path d="M321.0,154.0 L335.0,150.0 L339.0,153.0 L334.0,160.0 L338.0,167.0 L328.0,166.0 Z" fill="#b5dba6"/></g><rect x="310" y="130" width="180" height="60" fill="#bababa" filter="url(#nn)"/></g>
<g clip-path="url(#hc)">
<rect x="140" y="150" width="420" height="300" fill="#fde7a6"/>
<rect x="140" y="150" width="420" height="300" fill="#fffcc2" filter="url(#ny)"/>
<ellipse cx="205" cy="206" rx="32" ry="8" fill="#fffcc2" opacity="1" filter="url(#b3)"/>
<ellipse cx="236" cy="203" rx="14" ry="5" fill="#fffcc2" opacity="1" filter="url(#b3)"/>
<ellipse cx="222" cy="226" rx="10" ry="6" fill="#fffcc2" opacity="0.8" filter="url(#b3)"/>
<ellipse cx="186" cy="205" rx="14" ry="7" fill="#d6edb2" opacity="0.8" filter="url(#b3)"/>
<ellipse cx="217" cy="250" rx="26" ry="8" fill="#fffcc2" opacity="1" filter="url(#b3)"/>
<ellipse cx="232" cy="263" rx="14" ry="4" fill="#fffcc2" opacity="0.9" filter="url(#b3)"/>
<ellipse cx="271" cy="277" rx="13" ry="10" fill="#fffcc2" opacity="1" filter="url(#b3)"/>
<ellipse cx="166" cy="256" rx="12" ry="8" fill="#fffcc2" opacity="0.7" filter="url(#b3)" transform="rotate(-20 166 256)"/>
<ellipse cx="170" cy="225" rx="10" ry="7" fill="#fffcc2" opacity="0.6" filter="url(#b3)"/>
<ellipse cx="245" cy="222" rx="8" ry="6" fill="#f89a58" opacity="0.5" filter="url(#b3)"/>
<ellipse cx="284" cy="238" rx="26" ry="16" fill="#f89a58" opacity="0.85" filter="url(#b3)" transform="rotate(10 284 238)"/>
<ellipse cx="258" cy="224" rx="10" ry="8" fill="#f89a58" opacity="0.6" filter="url(#b3)"/>
<ellipse cx="262" cy="248" rx="7" ry="9" fill="#fffcc2" opacity="0.8" filter="url(#b3)"/>
<ellipse cx="300" cy="226" rx="8" ry="6" fill="#fffcc2" opacity="0.7" filter="url(#b3)"/>
<ellipse cx="322" cy="217" rx="22" ry="14" fill="#d6edb2" opacity="0.95" filter="url(#b3)"/>
<ellipse cx="363" cy="207" rx="11" ry="8" fill="#d6edb2" opacity="0.9" filter="url(#b3)"/>
<ellipse cx="342" cy="223" rx="9" ry="4" fill="#a8d8a3" opacity="1" filter="url(#b2)"/>
<ellipse cx="337" cy="157" rx="5" ry="4" fill="#a8d8a3" opacity="0.7" filter="url(#b2)"/>
<ellipse cx="366" cy="249" rx="14" ry="10" fill="#fffcc2" opacity="1" filter="url(#b3)"/>
<ellipse cx="363" cy="248" rx="9" ry="6" fill="#d6edb2" opacity="0.9" filter="url(#b2)"/>
<ellipse cx="372" cy="272" rx="30" ry="17" fill="#fdd28a" opacity="1" filter="url(#b3)" transform="rotate(35 372 272)"/>
<ellipse cx="390" cy="250" rx="10" ry="8" fill="#fffcc2" opacity="0.8" filter="url(#b3)"/>
<ellipse cx="383" cy="326" rx="22" ry="16" fill="#fffcc2" opacity="0.9" filter="url(#b3)"/>
<ellipse cx="352" cy="292" rx="12" ry="8" fill="#fdd28a" opacity="1" filter="url(#b3)"/>
<ellipse cx="274" cy="334" rx="12" ry="9" fill="#fdd28a" opacity="1" filter="url(#b3)"/>
<ellipse cx="283" cy="320" rx="8" ry="10" fill="#f89a58" opacity="0.7" filter="url(#b3)"/>
<ellipse cx="445" cy="255" rx="13" ry="16" fill="#fffcc2" opacity="0.9" filter="url(#b3)"/>
<ellipse cx="470" cy="216" rx="15" ry="12" fill="#fffcc2" opacity="0.85" filter="url(#b3)"/>
<ellipse cx="496" cy="213" rx="9" ry="16" fill="#fffcc2" opacity="0.8" filter="url(#b3)"/>
<ellipse cx="420" cy="272" rx="10" ry="8" fill="#fffcc2" opacity="0.8" filter="url(#b3)"/>
<ellipse cx="490" cy="197" rx="11" ry="10" fill="#d6edb2" opacity="1" filter="url(#b2)"/>
<ellipse cx="465" cy="258" rx="11" ry="10" fill="#d6edb2" opacity="1" filter="url(#b2)"/>
<ellipse cx="440" cy="230" rx="8" ry="6" fill="#d6edb2" opacity="0.7" filter="url(#b3)"/>
<ellipse cx="470" cy="285" rx="14" ry="8" fill="#fffcc2" opacity="0.8" filter="url(#b3)"/>
<ellipse cx="425" cy="210" rx="12" ry="6" fill="#f89a58" opacity="0.5" filter="url(#b3)"/>
<ellipse cx="450" cy="200" rx="14" ry="6" fill="#fdd28a" opacity="0.9" filter="url(#b3)"/>
<ellipse cx="500" cy="232" rx="8" ry="8" fill="#d6edb2" opacity="0.6" filter="url(#b3)"/>
<ellipse cx="465" cy="225" rx="40" ry="38" fill="#f9f6bf" opacity="0.9" filter="url(#b4)"/>
<ellipse cx="445" cy="285" rx="22" ry="14" fill="#f9f6bf" opacity="0.8" filter="url(#b4)"/>
<ellipse cx="325" cy="210" rx="40" ry="9" fill="#d6edb2" opacity="0.6" filter="url(#b3)"/>
<ellipse cx="295" cy="375" rx="36" ry="30" fill="#f68a4c" opacity="0.9" filter="url(#b3)"/>
<ellipse cx="262" cy="372" rx="16" ry="9" fill="#de4429" opacity="0.95" filter="url(#b3)" transform="rotate(20 262 372)"/>
<ellipse cx="288" cy="393" rx="20" ry="14" fill="#de4429" opacity="0.9" filter="url(#b3)" transform="rotate(25 288 393)"/>
<ellipse cx="306" cy="414" rx="17" ry="11" fill="#e2512f" opacity="0.8" filter="url(#b3)"/>
<ellipse cx="322" cy="390" rx="14" ry="14" fill="#e2512f" opacity="0.85" filter="url(#b3)"/>
<ellipse cx="308" cy="362" rx="14" ry="11" fill="#e8603c" opacity="0.7" filter="url(#b3)"/>
<ellipse cx="296" cy="358" rx="8" ry="10" fill="#e8603c" opacity="0.55" filter="url(#b3)"/>
<ellipse cx="300" cy="393" rx="9" ry="7" fill="#fffcc2" opacity="0.95" filter="url(#b2)"/>
<ellipse cx="314" cy="430" rx="5" ry="4" fill="#fffcc2" opacity="1" filter="url(#b2)"/>
<ellipse cx="367" cy="414" rx="6" ry="6" fill="#f89a58" opacity="0.8" filter="url(#b2)"/>
<ellipse cx="344" cy="358" rx="8" ry="12" fill="#fffcc2" opacity="0.8" filter="url(#b3)"/>
<ellipse cx="338" cy="366" rx="7" ry="15" fill="#f9a45f" opacity="0.8" filter="url(#b3)"/>
<ellipse cx="268" cy="352" rx="14" ry="7" fill="#fdd28a" opacity="0.6" filter="url(#b3)"/>
<ellipse cx="258" cy="372" rx="12" ry="8" fill="#e8603c" opacity="0.7" filter="url(#b3)" transform="rotate(20 258 372)"/>
<ellipse cx="318" cy="360" rx="14" ry="9" fill="#fdd28a" opacity="0.8" filter="url(#b3)"/>
<path d="M150.0,196.0 L262.0,196.0 L262.0,300.0 L150.0,300.0 Z" fill="#f9a55e" filter="url(#no)" opacity="0.45"/>
<path d="M238.0,205.0 L400.0,205.0 L420.0,250.0 L440.0,300.0 L400.0,330.0 L345.0,352.0 L255.0,352.0 L255.0,300.0 L262.0,260.0 Z" fill="#f9a55e" filter="url(#no)" opacity="0.6"/>
<path d="M240.0,340.0 L355.0,340.0 L352.0,440.0 L270.0,440.0 Z" fill="#f9a55e" filter="url(#no)" opacity="0.6"/>
<path d="M400.0,205.0 L440.0,195.0 L472.0,165.0 L515.0,176.0 L525.0,245.0 L486.0,262.0 L486.0,300.0 L440.0,305.0 L420.0,250.0 Z" fill="#f9a55e" filter="url(#no)" opacity="0.25"/>
<g filter="url(#b3)" fill="none" stroke="#fcc47e" stroke-linecap="round" stroke-linejoin="round" opacity="0.75">
<path d="M152.0,243.0 L169.0,233.0 L187.4,224.5 L206.0,217.0" stroke-width="15.2"/>
<path d="M153.0,242.5 L165.0,235.5 L177.0,230.0" stroke-width="13.299999999999999"/>
<path d="M200.0,219.0 L214.0,213.0 L226.0,211.0" stroke-width="9.5"/>
<path d="M187.0,224.0 L185.0,241.0 L187.0,254.5 L185.0,268.0" stroke-width="9.5"/>
<path d="M152.0,275.0 L169.0,271.0 L185.0,268.0 L206.0,260.5 L227.0,260.0 L248.0,258.5 L259.0,262.5" stroke-width="14.25"/>
<path d="M156.0,274.0 L169.0,271.0 L183.0,268.5" stroke-width="13.299999999999999"/>
<path d="M215.0,260.5 L232.0,259.5" stroke-width="9.5"/>
<path d="M151.0,285.0 L160.0,281.0 L171.0,283.0" stroke-width="11.399999999999999"/>
<path d="M184.0,281.0 L192.0,289.0 L203.0,296.0" stroke-width="11.399999999999999"/>
<path d="M186.0,274.0 L196.0,270.0 L207.0,277.0 L213.0,285.0" stroke-width="7.6"/>
<path d="M205.0,243.0 L196.0,252.0 L186.0,258.0" stroke-width="7.6"/>
<path d="M225.0,228.0 L240.0,232.0 L252.0,240.0" stroke-width="7.6"/>
<path d="M250.0,222.5 L265.0,227.5 L280.0,240.0" stroke-width="11.399999999999999"/>
<path d="M272.0,243.0 L283.0,238.0 L293.0,240.0 L300.0,250.0 L296.0,262.0" stroke-width="11.399999999999999"/>
<path d="M262.0,218.0 L290.0,225.0 L312.5,235.0 L332.5,237.5 L350.0,232.5 L367.5,227.5 L385.0,227.5 L400.0,225.0" stroke-width="13.299999999999999"/>
<path d="M400.0,225.0 L425.0,212.5 L450.0,207.5 L470.0,200.0 L490.0,188.0" stroke-width="6.75"/>
<path d="M332.0,237.0 L350.0,232.5 L367.5,228.0 L385.0,228.0" stroke-width="6.6499999999999995"/>
<path d="M388.0,228.0 L397.0,233.0 L406.0,238.0" stroke-width="9.5"/>
<path d="M347.5,257.5 L360.0,267.5 L370.0,277.5 L390.0,287.5 L408.0,293.0" stroke-width="13.299999999999999"/>
<path d="M408.0,293.0 L430.0,287.5 L450.0,277.5" stroke-width="6.0"/>
<path d="M357.0,258.0 L368.0,268.0 L380.0,277.0" stroke-width="6.6499999999999995"/>
<path d="M400.0,242.5 L415.0,250.0 L430.0,262.5 L440.0,275.0 L450.0,280.0" stroke-width="9.5"/>
<path d="M457.0,281.0 L472.0,279.0 L488.0,277.0" stroke-width="5.25"/>
<path d="M494.0,217.0 L501.0,238.0 L498.0,251.0" stroke-width="5.25"/>
<path d="M350.0,262.5 L337.5,275.0 L324.0,286.0 L314.0,297.0" stroke-width="19.0"/>
<path d="M332.5,309.0 L352.0,314.0 L369.0,306.0 L387.0,298.5 L405.0,299.0" stroke-width="15.2"/>
<path d="M405.0,299.0 L425.0,300.0 L440.0,296.0" stroke-width="6.0"/>
<path d="M338.0,316.0 L350.0,313.0 L362.0,311.0" stroke-width="11.399999999999999"/>
<path d="M296.0,316.0 L293.0,326.0 L294.0,338.0" stroke-width="13.299999999999999"/>
<path d="M432.5,207.5 L450.0,210.0 L462.5,225.0 L470.0,241.0 L474.0,252.0" stroke-width="6.0"/>
<path d="M462.5,187.5 L475.0,185.0 L500.0,182.5" stroke-width="5.25"/>
<path d="M472.5,170.0 L477.5,178.5 L482.5,200.0 L480.0,215.0" stroke-width="5.25"/>
<path d="M455.0,272.5 L470.0,267.5 L482.5,260.0 L495.0,250.0" stroke-width="6.0"/>
<path d="M400.0,287.5 L415.0,282.5 L430.0,280.0 L442.5,292.5" stroke-width="6.0"/>
<path d="M410.0,222.0 L418.0,228.0 L422.0,236.0" stroke-width="9.5"/>
<path d="M247.5,367.5 L270.0,372.5 L277.5,385.0 L285.0,397.5 L295.0,410.0" stroke-width="15.2"/>
<path d="M295.0,352.5 L297.5,372.5 L302.5,390.0 L305.0,407.5" stroke-width="13.299999999999999"/>
<path d="M310.0,352.0 L308.0,365.0 L302.0,378.0" stroke-width="9.5"/>
<path d="M322.0,350.0 L318.0,364.0 L316.0,378.0 L320.0,392.0" stroke-width="9.5"/>
<path d="M275.0,392.0 L290.0,400.0 L305.0,412.0 L318.0,420.0" stroke-width="13.299999999999999"/>
<path d="M320.0,390.0 L325.0,405.0 L318.0,420.0" stroke-width="9.5"/>
<path d="M290.0,418.0 L300.0,428.0 L312.0,424.0" stroke-width="9.5"/>
<path d="M277.0,318.0 L290.0,330.0 L300.0,343.0" stroke-width="11.399999999999999"/>
</g>
<g filter="url(#b3)" fill="none" stroke="#f6924f" stroke-linecap="round" stroke-linejoin="round" opacity="0.9">
<path d="M152.0,243.0 L169.0,233.0 L187.4,224.5 L206.0,217.0" stroke-width="8.4"/>
<path d="M153.0,242.5 L165.0,235.5 L177.0,230.0" stroke-width="7.3500000000000005"/>
<path d="M200.0,219.0 L214.0,213.0 L226.0,211.0" stroke-width="5.25"/>
<path d="M187.0,224.0 L185.0,241.0 L187.0,254.5 L185.0,268.0" stroke-width="5.25"/>
<path d="M152.0,275.0 L169.0,271.0 L185.0,268.0 L206.0,260.5 L227.0,260.0 L248.0,258.5 L259.0,262.5" stroke-width="7.875"/>
<path d="M156.0,274.0 L169.0,271.0 L183.0,268.5" stroke-width="7.3500000000000005"/>
<path d="M215.0,260.5 L232.0,259.5" stroke-width="5.25"/>
<path d="M151.0,285.0 L160.0,281.0 L171.0,283.0" stroke-width="6.300000000000001"/>
<path d="M184.0,281.0 L192.0,289.0 L203.0,296.0" stroke-width="6.300000000000001"/>
<path d="M186.0,274.0 L196.0,270.0 L207.0,277.0 L213.0,285.0" stroke-width="4.2"/>
<path d="M205.0,243.0 L196.0,252.0 L186.0,258.0" stroke-width="4.2"/>
<path d="M225.0,228.0 L240.0,232.0 L252.0,240.0" stroke-width="4.2"/>
<path d="M250.0,222.5 L265.0,227.5 L280.0,240.0" stroke-width="6.300000000000001"/>
<path d="M272.0,243.0 L283.0,238.0 L293.0,240.0 L300.0,250.0 L296.0,262.0" stroke-width="6.300000000000001"/>
<path d="M262.0,218.0 L290.0,225.0 L312.5,235.0 L332.5,237.5 L350.0,232.5 L367.5,227.5 L385.0,227.5 L400.0,225.0" stroke-width="7.3500000000000005"/>
<path d="M400.0,225.0 L425.0,212.5 L450.0,207.5 L470.0,200.0 L490.0,188.0" stroke-width="4.7250000000000005" opacity="0.9"/>
<path d="M332.0,237.0 L350.0,232.5 L367.5,228.0 L385.0,228.0" stroke-width="3.6750000000000003"/>
<path d="M388.0,228.0 L397.0,233.0 L406.0,238.0" stroke-width="5.25"/>
<path d="M347.5,257.5 L360.0,267.5 L370.0,277.5 L390.0,287.5 L408.0,293.0" stroke-width="7.3500000000000005"/>
<path d="M408.0,293.0 L430.0,287.5 L450.0,277.5" stroke-width="4.2" opacity="0.9"/>
<path d="M357.0,258.0 L368.0,268.0 L380.0,277.0" stroke-width="3.6750000000000003"/>
<path d="M400.0,242.5 L415.0,250.0 L430.0,262.5 L440.0,275.0 L450.0,280.0" stroke-width="5.25"/>
<path d="M457.0,281.0 L472.0,279.0 L488.0,277.0" stroke-width="3.6750000000000003" opacity="0.9"/>
<path d="M494.0,217.0 L501.0,238.0 L498.0,251.0" stroke-width="3.6750000000000003" opacity="0.9"/>
<path d="M350.0,262.5 L337.5,275.0 L324.0,286.0 L314.0,297.0" stroke-width="10.5"/>
<path d="M332.5,309.0 L352.0,314.0 L369.0,306.0 L387.0,298.5 L405.0,299.0" stroke-width="8.4"/>
<path d="M405.0,299.0 L425.0,300.0 L440.0,296.0" stroke-width="4.2" opacity="0.9"/>
<path d="M338.0,316.0 L350.0,313.0 L362.0,311.0" stroke-width="6.300000000000001"/>
<path d="M296.0,316.0 L293.0,326.0 L294.0,338.0" stroke-width="7.3500000000000005"/>
<path d="M432.5,207.5 L450.0,210.0 L462.5,225.0 L470.0,241.0 L474.0,252.0" stroke-width="4.2" opacity="0.9"/>
<path d="M462.5,187.5 L475.0,185.0 L500.0,182.5" stroke-width="3.6750000000000003" opacity="0.9"/>
<path d="M472.5,170.0 L477.5,178.5 L482.5,200.0 L480.0,215.0" stroke-width="3.6750000000000003" opacity="0.9"/>
<path d="M455.0,272.5 L470.0,267.5 L482.5,260.0 L495.0,250.0" stroke-width="4.2" opacity="0.9"/>
<path d="M400.0,287.5 L415.0,282.5 L430.0,280.0 L442.5,292.5" stroke-width="4.2" opacity="0.9"/>
<path d="M410.0,222.0 L418.0,228.0 L422.0,236.0" stroke-width="5.25"/>
<path d="M247.5,367.5 L270.0,372.5 L277.5,385.0 L285.0,397.5 L295.0,410.0" stroke-width="8.4"/>
<path d="M295.0,352.5 L297.5,372.5 L302.5,390.0 L305.0,407.5" stroke-width="7.3500000000000005"/>
<path d="M310.0,352.0 L308.0,365.0 L302.0,378.0" stroke-width="5.25"/>
<path d="M322.0,350.0 L318.0,364.0 L316.0,378.0 L320.0,392.0" stroke-width="5.25"/>
<path d="M275.0,392.0 L290.0,400.0 L305.0,412.0 L318.0,420.0" stroke-width="7.3500000000000005"/>
<path d="M320.0,390.0 L325.0,405.0 L318.0,420.0" stroke-width="5.25"/>
<path d="M290.0,418.0 L300.0,428.0 L312.0,424.0" stroke-width="5.25"/>
<path d="M277.0,318.0 L290.0,330.0 L300.0,343.0" stroke-width="6.300000000000001"/>
</g>
<ellipse cx="215" cy="249" rx="22" ry="6" fill="#fffcc2" opacity="0.9" filter="url(#b3)"/>
<ellipse cx="236" cy="264" rx="12" ry="3.5" fill="#fffcc2" opacity="0.8" filter="url(#b3)"/>
<ellipse cx="204" cy="206" rx="30" ry="6" fill="#fffcc2" opacity="0.85" filter="url(#b3)"/>
<ellipse cx="168" cy="255" rx="9" ry="6" fill="#fffcc2" opacity="0.7" filter="url(#b3)" transform="rotate(-25 168 255)"/>
<ellipse cx="200" cy="284" rx="8" ry="4" fill="#fffcc2" opacity="0.7" filter="url(#b3)"/>
<ellipse cx="490" cy="197" rx="10" ry="9" fill="#d6edb2" opacity="0.95" filter="url(#b2)"/>
<ellipse cx="465" cy="258" rx="10" ry="9" fill="#d6edb2" opacity="0.95" filter="url(#b2)"/>
<ellipse cx="500" cy="232" rx="6" ry="7" fill="#d6edb2" opacity="0.7" filter="url(#b2)"/>
<ellipse cx="318" cy="216" rx="20" ry="12" fill="#d6edb2" opacity="0.9" filter="url(#b2)"/>
<ellipse cx="345" cy="224" rx="10" ry="4" fill="#a8d8a3" opacity="0.9" filter="url(#b2)"/>
<ellipse cx="362" cy="208" rx="10" ry="7" fill="#d6edb2" opacity="0.9" filter="url(#b2)"/>
<ellipse cx="364" cy="249" rx="9" ry="6" fill="#d6edb2" opacity="0.85" filter="url(#b2)"/>
<ellipse cx="300" cy="302" rx="9" ry="6" fill="#fffcc2" opacity="0.85" filter="url(#b3)" transform="rotate(-30 300 302)"/>
<ellipse cx="318" cy="357" rx="20" ry="8" fill="#fdd28a" opacity="0.75" filter="url(#b3)"/>
<ellipse cx="342" cy="356" rx="7" ry="10" fill="#fffcc2" opacity="0.7" filter="url(#b3)"/>
<ellipse cx="366" cy="249" rx="12" ry="8" fill="#fffcc2" opacity="0.8" filter="url(#b3)"/>
<ellipse cx="272" cy="277" rx="11" ry="8" fill="#fffcc2" opacity="0.9" filter="url(#b3)"/>
<ellipse cx="300" cy="393" rx="8" ry="6" fill="#fffcc2" opacity="0.9" filter="url(#b2)"/>
<ellipse cx="380" cy="326" rx="16" ry="10" fill="#fffcc2" opacity="0.6" filter="url(#b3)"/>
<g filter="url(#b3)"><path d="M291.0,319.0 L300.0,312.0 L311.0,307.0 L319.0,299.0 L330.0,297.0 L341.0,306.0 L338.0,318.0 L346.0,330.0 L336.0,339.0 L320.0,343.0 L305.0,349.0 L292.0,345.0 L286.0,331.0 Z" fill="#df3d25" opacity="0.95"/></g>
<g filter="url(#b2)" fill="none" stroke="#de432b" stroke-linecap="round" stroke-linejoin="round" opacity="0.85">
<path d="M153.0,242.5 L165.0,235.5 L177.0,230.0" stroke-width="3.8500000000000005" stroke-dasharray="10 6" stroke-dashoffset="1"/>
<path d="M156.0,274.0 L169.0,271.0 L183.0,268.5" stroke-width="3.8500000000000005" stroke-dasharray="9 6" stroke-dashoffset="5"/>
<path d="M215.0,260.5 L232.0,259.5" stroke-width="2.75" stroke-dasharray="10 7" stroke-dashoffset="6"/>
<path d="M151.0,285.0 L160.0,281.0 L171.0,283.0" stroke-width="3.3000000000000003" stroke-dasharray="11 8" stroke-dashoffset="0"/>
<path d="M184.0,281.0 L192.0,289.0 L203.0,296.0" stroke-width="3.3000000000000003" stroke-dasharray="12 5" stroke-dashoffset="1"/>
<path d="M250.0,222.5 L265.0,227.5 L280.0,240.0" stroke-width="3.3000000000000003" stroke-dasharray="11 5" stroke-dashoffset="5"/>
<path d="M272.0,243.0 L283.0,238.0 L293.0,240.0 L300.0,250.0 L296.0,262.0" stroke-width="3.3000000000000003" stroke-dasharray="12 6" stroke-dashoffset="6"/>
<path d="M332.0,237.0 L350.0,232.5 L367.5,228.0 L385.0,228.0" stroke-width="2.6" stroke-dasharray="10 5" stroke-dashoffset="2"/>
<path d="M388.0,228.0 L397.0,233.0 L406.0,238.0" stroke-width="2.75" stroke-dasharray="11 6" stroke-dashoffset="3"/>
<path d="M347.5,257.5 L360.0,267.5 L370.0,277.5 L390.0,287.5 L408.0,293.0" stroke-width="3.8500000000000005" stroke-dasharray="12 7" stroke-dashoffset="4"/>
<path d="M350.0,262.5 L337.5,275.0 L324.0,286.0 L314.0,297.0" stroke-width="5.5" stroke-dasharray="13 5" stroke-dashoffset="3"/>
<path d="M332.5,309.0 L352.0,314.0 L369.0,306.0 L387.0,298.5 L405.0,299.0" stroke-width="4.4" stroke-dasharray="9 6" stroke-dashoffset="4"/>
<path d="M338.0,316.0 L350.0,313.0 L362.0,311.0" stroke-width="3.3000000000000003" stroke-dasharray="11 8" stroke-dashoffset="6"/>
<path d="M296.0,316.0 L293.0,326.0 L294.0,338.0" stroke-width="3.8500000000000005" stroke-dasharray="12 5" stroke-dashoffset="0"/>
<path d="M410.0,222.0 L418.0,228.0 L422.0,236.0" stroke-width="2.75" stroke-dasharray="13 7" stroke-dashoffset="6"/>
<path d="M247.5,367.5 L270.0,372.5 L277.5,385.0 L285.0,397.5 L295.0,410.0" stroke-width="4.4" stroke-dasharray="9 8" stroke-dashoffset="0"/>
<path d="M295.0,352.5 L297.5,372.5 L302.5,390.0 L305.0,407.5" stroke-width="3.8500000000000005" stroke-dasharray="10 5" stroke-dashoffset="1"/>
<path d="M310.0,352.0 L308.0,365.0 L302.0,378.0" stroke-width="2.75" stroke-dasharray="11 6" stroke-dashoffset="2"/>
<path d="M275.0,392.0 L290.0,400.0 L305.0,412.0 L318.0,420.0" stroke-width="3.8500000000000005" stroke-dasharray="13 8" stroke-dashoffset="4"/>
<path d="M320.0,390.0 L325.0,405.0 L318.0,420.0" stroke-width="2.75" stroke-dasharray="9 5" stroke-dashoffset="5"/>
<path d="M290.0,418.0 L300.0,428.0 L312.0,424.0" stroke-width="2.75" stroke-dasharray="10 6" stroke-dashoffset="6"/>
</g>
<g filter="url(#b2)" fill="none" stroke="#b8140f" stroke-linecap="round" stroke-linejoin="round" opacity="0.85">
<path d="M151.0,285.0 L160.0,281.0 L171.0,283.0" stroke-width="3.0" />
<path d="M184.0,281.0 L192.0,289.0 L203.0,296.0" stroke-width="3.0" />
<path d="M303.0,312.0 L310.0,318.0 L318.0,328.0 L322.0,342.0" stroke-width="4.3"/>
<path d="M312.0,297.0 L322.0,308.0 L333.0,318.0 L342.0,328.0" stroke-width="4.3"/>
<path d="M296.0,322.0 L306.0,330.0 L318.0,334.0 L332.0,334.0" stroke-width="4.3"/>
<path d="M326.0,301.0 L320.0,312.0 L312.0,322.0 L300.0,338.0" stroke-width="4.3"/>
<path d="M330.0,304.0 L340.0,312.0" stroke-width="4.3"/>
<path d="M292.0,312.0 L298.0,326.0 L300.0,344.0" stroke-width="4.3"/>
<path d="M308.0,340.0 L316.0,346.0" stroke-width="4.3"/>
<path d="M326.0,322.0 L338.0,336.0" stroke-width="4.3"/>
</g>
</g>
<g fill="#bababa">
<path d="M216.5,236.0 L219.5,234.1 L222.8,234.4 L226.3,235.5 L229.2,233.0 L232.5,233.0 L235.7,234.6 L238.5,236.6 L240.5,239.5 L243.1,241.7 L245.1,244.6 L248.0,246.5 L247.3,249.8 L243.6,251.2 L243.0,254.5 L239.8,254.9 L236.8,253.6 L233.6,254.3 L230.5,253.9 L227.4,253.8 L224.5,252.0 L222.4,249.3 L218.4,249.1 L217.5,244.8 L214.0,244.0 L215.9,240.2 Z"/>
<path d="M270.0,259.0 L273.1,256.7 L276.6,255.3 L280.0,253.9 L284.0,254.0 L287.1,255.0 L290.5,254.0 L293.5,255.9 L296.7,256.7 L300.0,256.0 L302.7,257.8 L306.1,257.7 L308.8,259.6 L311.6,261.2 L315.2,260.5 L318.0,262.0 L321.2,262.8 L323.1,266.1 L325.9,267.7 L329.2,268.4 L332.0,270.0 L330.6,273.3 L329.9,276.9 L328.0,280.0 L325.0,281.5 L321.9,282.9 L318.6,283.2 L315.0,282.3 L312.0,284.0 L308.3,284.3 L304.7,285.0 L301.7,287.7 L298.0,288.0 L295.1,285.8 L291.4,285.2 L288.0,284.1 L285.0,282.0 L282.2,279.5 L280.1,276.4 L276.3,275.0 L274.0,272.0 L272.3,269.0 L272.4,265.4 L271.7,262.0 Z"/>
<path d="M317.0,250.0 L320.2,251.1 L323.1,249.7 L326.0,249.1 L328.9,247.7 L332.0,248.0 L333.8,251.8 L334.0,256.0 L330.6,257.5 L327.2,258.2 L323.7,258.8 L320.0,258.0 L318.2,254.1 Z"/>
<path d="M385.0,267.0 L387.4,264.3 L391.2,264.6 L393.6,262.0 L396.8,260.9 L400.0,260.0 L403.5,260.3 L405.6,263.3 L408.9,264.0 L411.2,266.5 L414.0,268.0 L415.3,270.9 L415.6,273.9 L415.2,277.0 L415.0,280.1 L416.0,283.0 L413.1,285.0 L413.7,289.3 L410.2,290.9 L409.0,294.0 L405.9,294.3 L403.2,292.0 L399.9,293.2 L397.1,291.5 L394.0,292.0 L391.5,289.5 L390.6,285.6 L388.2,283.0 L385.0,281.0 L383.8,277.5 L386.4,274.0 L384.7,270.5 Z"/>
<path d="M317.0,292.0 L320.5,290.4 L324.2,289.7 L328.0,290.0 L328.5,293.4 L332.0,295.4 L332.0,299.0 L328.8,302.0 L325.0,304.0 L321.2,303.2 L318.0,301.0 L316.4,298.1 L318.4,294.9 Z"/>
<path d="M485.0,262.5 L486.6,259.8 L489.8,258.7 L491.9,256.5 L493.3,253.6 L496.2,252.2 L497.5,249.3 L500.0,247.5 L503.4,246.1 L506.9,245.6 L510.6,246.4 L514.1,246.4 L517.5,245.0 L520.3,247.2 L523.5,249.0 L525.1,252.4 L528.2,254.3 L530.0,257.5 L532.9,259.5 L532.9,263.7 L536.8,265.0 L536.9,269.1 L540.0,271.0 L537.5,273.4 L534.4,274.3 L531.3,275.0 L528.5,276.4 L525.3,276.8 L522.4,278.3 L518.9,277.7 L516.3,279.8 L512.6,278.9 L510.0,281.0 L507.5,283.3 L507.7,286.8 L506.0,289.5 L504.4,292.2 L504.3,295.6 L503.1,298.5 L500.1,300.6 L500.0,304.0 L499.6,300.6 L495.7,299.1 L494.6,296.1 L494.8,292.4 L492.5,290.0 L490.7,286.8 L488.2,284.3 L485.0,282.5 L485.2,279.2 L484.9,275.8 L483.9,272.5 L485.6,269.2 L484.9,265.8 Z"/>
<path d="M425.0,222.0 L427.9,223.0 L430.8,224.2 L433.9,223.8 L437.0,224.0 L436.2,228.0 L436.0,232.0 L432.0,231.6 L428.0,232.0 L428.1,228.3 L426.8,225.1 Z"/>
<path d="M447.0,236.0 L450.7,236.3 L454.3,235.1 L458.0,235.0 L458.3,238.4 L460.6,241.4 L460.0,245.0 L456.7,245.6 L453.3,246.3 L450.0,247.0 L448.6,243.4 L449.2,239.3 Z"/>
<path d="M425.0,284.0 L427.9,283.1 L431.1,283.7 L434.0,282.4 L437.2,283.9 L440.0,282.0 L440.8,285.7 L442.1,289.3 L445.0,292.0 L441.4,292.2 L438.2,293.7 L435.0,295.0 L432.0,297.0 L429.3,294.2 L426.0,292.0 L424.5,288.1 Z"/>
<path d="M315.0,357.0 L318.2,357.5 L321.5,357.9 L324.8,357.2 L328.0,357.0 L328.6,360.0 L328.3,363.2 L330.0,366.0 L327.2,367.5 L323.8,365.8 L320.8,366.2 L318.0,368.0 L317.7,364.1 L316.7,360.5 Z"/>
<path d="M278.0,367.0 L281.0,367.6 L284.0,367.8 L287.0,368.0 L290.0,367.0 L290.7,370.3 L289.7,373.8 L291.0,377.0 L287.4,378.0 L283.6,376.8 L280.0,378.0 L280.2,374.2 L277.8,370.8 Z"/>
<path d="M256.0,343.0 L259.3,342.7 L262.3,344.2 L265.5,344.3 L268.6,345.7 L272.0,344.7 L275.0,346.0 L278.6,347.6 L281.8,349.7 L285.0,352.0 L282.8,354.3 L281.5,357.2 L280.0,360.0 L276.8,361.0 L274.0,359.2 L270.8,359.9 L268.1,357.4 L265.0,358.0 L262.0,355.5 L257.9,354.7 L255.0,352.0 L255.8,349.1 L256.5,346.1 Z"/>
<path d="M343.0,394.0 L345.4,391.1 L346.0,387.6 L347.2,384.4 L346.1,380.4 L349.0,377.6 L349.0,374.0 L348.6,370.5 L350.6,367.9 L353.0,365.3 L354.0,362.3 L354.5,359.2 L353.7,355.6 L356.4,353.1 L357.0,350.0 L360.1,348.9 L363.2,349.3 L366.4,349.7 L369.5,350.0 L372.6,350.2 L375.8,349.8 L378.9,350.0 L382.0,350.0 L380.7,353.1 L383.3,356.1 L383.5,359.2 L382.6,362.2 L382.1,365.3 L380.8,368.4 L380.7,371.4 L381.3,374.5 L382.4,377.5 L382.4,380.6 L382.7,383.6 L383.0,386.7 L383.0,389.8 L381.9,392.8 L381.6,395.9 L383.3,398.9 L382.0,402.0 L378.9,402.1 L375.8,401.0 L372.8,400.6 L369.7,401.3 L366.6,403.3 L363.5,403.4 L360.4,400.6 L357.3,400.6 L354.2,402.7 L351.2,402.8 L348.1,401.8 L345.0,402.0 L342.9,398.3 Z"/>
<path d="M248.0,288.0 L251.0,287.7 L254.2,288.3 L257.0,286.8 L260.0,286.3 L263.1,286.4 L265.8,284.0 L269.1,285.7 L271.9,283.5 L275.0,284.0 L277.6,286.0 L280.2,288.0 L283.1,289.3 L286.9,289.2 L289.0,292.0 L287.7,295.1 L287.3,298.3 L288.6,301.9 L287.9,305.0 L286.0,308.0 L282.8,309.4 L280.9,312.3 L278.9,314.9 L275.8,316.5 L273.8,319.1 L272.0,322.0 L268.9,324.2 L265.2,325.0 L262.0,327.0 L259.3,328.5 L256.2,329.4 L253.7,331.5 L250.4,331.9 L248.0,334.0 L247.9,330.9 L249.2,327.9 L247.6,324.8 L246.6,321.7 L248.6,318.7 L249.2,315.6 L248.5,312.5 L248.3,309.5 L247.2,306.4 L249.3,303.3 L246.6,300.3 L247.8,297.2 L248.4,294.1 L246.7,291.1 Z"/>
<path d="M250.0,262.0 L253.0,263.0 L255.9,264.3 L259.1,264.8 L261.7,266.9 L265.1,266.7 L268.0,268.0 L269.3,271.1 L268.3,274.6 L268.7,277.8 L270.5,280.8 L271.0,284.0 L268.1,285.3 L265.3,286.9 L262.3,287.5 L259.0,287.5 L256.4,289.6 L252.6,287.9 L250.0,290.0 L249.3,286.9 L249.6,283.8 L250.3,280.7 L249.8,277.6 L249.5,274.4 L250.3,271.3 L248.9,268.2 L250.4,265.1 Z"/>
<path d="M250.0,236.0 L252.9,238.1 L256.5,237.9 L260.1,237.8 L263.0,240.0 L263.6,243.8 L261.7,247.3 L262.0,251.0 L258.9,251.6 L256.1,249.3 L252.9,251.1 L250.0,250.0 L249.5,246.5 L250.4,243.0 L249.3,239.5 Z"/>
<path d="M336.0,198.0 L339.2,197.6 L342.3,196.5 L345.6,196.6 L348.6,195.1 L352.0,196.0 L354.8,198.9 L357.2,202.0 L358.0,206.0 L356.5,209.1 L354.4,211.6 L352.0,214.0 L349.1,212.6 L345.7,212.9 L343.4,209.9 L340.0,210.0 L340.3,206.6 L338.9,203.7 L336.1,201.3 Z"/>
<path d="M383.0,203.0 L386.0,202.7 L389.1,203.6 L392.0,202.0 L395.0,201.8 L398.0,202.0 L399.7,205.1 L398.4,208.8 L400.0,212.0 L396.8,211.6 L394.1,213.6 L391.2,214.9 L388.0,214.0 L386.1,211.5 L385.9,208.3 L384.9,205.5 Z"/>
<path d="M405.0,306.0 L408.1,306.1 L410.8,303.9 L413.8,303.4 L416.9,303.1 L420.0,303.0 L420.1,306.6 L423.6,308.6 L424.0,312.0 L420.8,313.1 L417.7,314.4 L415.4,317.4 L412.0,318.0 L410.1,315.1 L407.5,312.6 L405.8,309.5 Z"/>
<path d="M360.0,312.0 L363.0,313.0 L366.0,312.9 L369.0,312.6 L372.0,312.0 L370.7,316.0 L372.0,320.0 L368.8,321.5 L365.3,320.8 L362.0,321.0 L361.7,317.9 L359.8,315.2 Z"/>
</g>
<rect x="140" y="150" width="420" height="300" fill="#bababa" filter="url(#ng)"/>
<path d="M405.0,205.0 L440.0,198.0 L470.0,168.0 L512.0,176.0 L520.0,245.0 L486.0,262.0 L486.0,300.0 L440.0,305.0 L430.0,262.0 L425.0,225.0 Z" fill="#bababa" filter="url(#g25)"/>
<path d="M362.0,302.0 L410.0,297.0 L430.0,305.0 L410.0,328.0 L408.0,345.0 L395.0,357.0 L358.0,346.0 L358.0,322.0 Z" fill="#bababa" filter="url(#g50)"/>
<path d="M283.0,200.0 L375.0,196.0 L380.0,214.0 L340.0,212.0 L300.0,216.0 L280.0,212.0 Z" fill="#bababa" filter="url(#g50)"/>
<path d="M255.0,212.0 L300.0,215.0 L310.0,260.0 L260.0,262.0 Z" fill="#bababa" filter="url(#g35)"/>
<path d="M336.0,345.0 L357.0,343.0 L356.0,372.0 L340.0,394.0 L331.0,386.0 L334.0,365.0 Z" fill="#bababa" filter="url(#g50)"/>
<path d="M300.0,425.0 L325.0,414.0 L332.0,437.0 L300.0,439.0 Z" fill="#bababa" filter="url(#g50)"/>
<path d="M282.0,408.0 L300.0,420.0 L296.0,436.0 L278.0,425.0 Z" fill="#bababa" filter="url(#g35)"/>
<path d="M180.0,196.0 L260.0,205.0 L262.0,215.0 L175.0,214.0 Z" fill="#bababa" filter="url(#g35)"/>
<g fill="none" stroke="#c2201b" stroke-width="2.2">
<path d="M170.0,167.0 L167.5,171.0 L155.6,172.0 L149.0,189.6 L140.0,199.0"/>
<path d="M356.0,113.8 L365.0,108.8 L375.0,98.8 L380.0,92.5"/>
<path d="M320.0,153.8 L335.0,149.5"/>
<path d="M125.0,262.5 L128.8,280.0 L130.0,293.0"/>
<path d="M511.0,280.0 L507.5,292.5 L500.0,303.0"/>
</g>
</g>
<g fill="none" stroke="#000" stroke-width="1.7" stroke-linejoin="round" stroke-linecap="round">
<path d="M194.0,142.0 L196.6,142.3 L198.8,143.8 L201.1,144.9 L203.9,144.7 L206.0,146.4 L208.5,147.0 L208.3,149.7 L207.2,152.3 L207.0,155.0 L209.6,155.0 L211.9,156.7 L214.4,156.8 L216.9,157.7 L219.4,157.8 L222.1,157.3 L224.4,159.0 L227.0,159.0 L228.4,161.2 L229.3,163.7 L231.1,165.6 L232.1,168.1 L234.0,170.0 L236.6,169.6 L239.2,169.8 L241.9,169.9 L244.4,171.4 L247.0,171.0 L249.1,169.1 L251.0,167.0 L253.6,167.5 L256.4,167.3 L259.0,168.0 L260.6,171.4 L261.5,175.0 L263.9,175.8 L266.2,176.9 L267.9,179.1 L270.8,179.1 L272.4,181.5 L275.0,182.0 L277.4,183.4 L279.0,185.7 L281.5,187.0 L283.8,185.5 L285.0,183.0 L287.6,182.4 L289.8,180.8 L292.3,179.9 L295.0,179.6 L297.5,179.0 L300.0,178.0 L302.5,177.3 L304.9,176.4 L307.5,176.5 L310.0,176.0 L311.2,173.4 L311.7,170.7 L311.9,168.0 L312.7,165.3 L312.5,162.5 L314.7,160.6 L316.0,157.9 L318.1,155.9 L320.0,153.8 L322.3,152.5 L325.2,152.9 L327.4,151.4 L330.0,150.9 L332.4,149.7 L335.0,149.5 L337.8,150.5 L340.0,152.5 L338.6,154.8 L336.4,156.4 L335.0,158.8 L334.8,162.0 L336.0,165.0 L339.4,165.0 L342.5,163.8 L344.3,161.7 L346.1,159.8 L347.5,157.5 L350.6,156.9 L353.8,157.5 L354.4,154.7 L356.9,152.8 L357.4,149.9 L358.7,147.5 L360.0,145.0 L358.9,142.6 L359.3,139.8 L358.8,137.3 L357.6,134.9 L356.6,132.5 L356.0,130.0 L355.4,127.5 L354.0,125.1 L353.8,122.5 L354.3,119.5 L354.9,116.6 L356.0,113.8 L358.5,112.9 L360.3,110.9 L362.6,109.6 L365.0,108.8 L367.2,106.9 L368.8,104.5 L371.4,103.1 L373.0,100.7 L375.0,98.8 L376.4,96.5 L377.8,94.2 L380.0,92.5 L382.8,90.9 L385.8,89.8 L388.8,88.8 L391.0,87.3 L393.0,85.7 L395.4,84.4 L396.9,82.1 L398.6,80.0 L401.0,78.8 L402.3,75.7 L402.5,72.5 L405.1,72.3 L407.4,73.8 L410.0,73.8 L412.4,72.7 L414.8,71.6 L417.5,71.8 L420.0,71.0 L422.7,73.3 L425.0,76.0 L427.7,76.9 L430.6,77.1 L433.2,78.3 L436.0,78.8 L436.7,81.4 L438.2,83.7 L439.4,86.1 L440.0,88.8 L442.3,90.3 L444.9,91.0 L447.8,91.2 L450.1,92.6 L452.4,94.2 L454.8,95.5 L457.5,96.0 L459.4,98.1 L462.0,99.5 L463.3,102.2 L465.4,104.1 L468.3,105.1 L470.0,107.5 L472.3,109.0 L475.0,109.2 L477.6,109.8 L480.0,111.0 L481.7,113.4 L484.3,115.0 L485.5,117.8 L487.5,120.0 L490.3,120.5 L492.6,122.1 L495.3,123.0 L497.6,124.6 L500.0,126.0 L502.7,126.6 L504.8,128.5 L507.2,129.7 L509.8,130.6 L512.5,131.0 L513.7,133.3 L513.9,135.9 L514.6,138.4 L514.4,141.1 L514.7,143.7 L516.0,146.0 L517.6,148.3 L517.9,151.1 L519.2,153.6 L519.8,156.3 L521.0,158.8 L519.7,161.6 L516.9,163.4 L515.4,166.1 L513.8,168.8 L512.4,171.1 L510.5,173.0 L509.1,175.3 L507.5,177.5 L508.1,180.0 L507.9,182.5 L508.2,185.0 L508.8,187.5 L508.1,190.0 L508.5,192.6 L507.6,195.0 L506.6,197.4 L506.8,200.0 L506.1,202.5 L506.0,205.0 L506.5,207.7 L506.9,210.4 L507.5,213.0 L510.6,214.5 L513.8,216.0 L512.9,218.6 L513.6,221.4 L512.5,224.0 L514.1,226.0 L515.7,228.1 L517.5,230.0 L516.8,232.5 L515.2,234.8 L515.0,237.5 L517.5,239.6 L519.5,242.4 L522.5,244.0 L524.2,246.3 L525.0,249.1 L527.5,250.9 L528.2,253.8 L530.0,256.0 L532.4,258.1 L533.8,261.0 L534.9,263.4 L535.6,266.0 L536.2,268.6 L537.5,271.0 L535.1,271.9 L532.4,271.4 L530.0,272.5 L527.3,273.3 L525.1,275.3 L522.8,276.9 L520.0,277.5 L516.9,278.0 L513.8,278.4 L511.0,280.0 L509.9,282.4 L510.1,285.1 L509.3,287.6 L508.9,290.2 L507.5,292.5 L505.5,294.3 L504.4,296.6 L503.0,298.8 L501.2,300.7 L500.0,303.0 L498.2,300.8 L496.3,298.8 L493.8,297.5 L494.0,294.9 L493.7,292.4 L492.5,290.0 L490.0,289.8 L487.5,289.7 L485.0,290.0 L483.6,292.6 L481.3,294.4 L479.1,296.3 L477.5,298.8 L475.0,299.5 L472.5,298.7 L470.0,298.2 L467.5,298.8 L466.4,296.4 L464.2,294.9 L463.0,292.7 L461.0,291.0 L458.8,291.0 L456.2,292.1 L453.8,293.3 L451.0,293.8 L450.8,297.4 L450.0,301.0 L447.6,302.3 L446.3,304.9 L443.8,306.0 L441.5,303.2 L438.8,301.0 L435.9,303.0 L432.5,303.8 L429.8,305.3 L428.2,308.0 L426.0,310.0 L425.3,313.0 L425.0,316.0 L422.7,317.6 L420.1,318.8 L417.6,319.9 L415.0,321.0 L412.8,323.0 L409.7,323.8 L407.8,326.3 L405.0,327.5 L402.5,327.5 L402.0,330.0 L403.9,332.5 L406.0,335.0 L406.5,337.9 L407.4,340.7 L407.0,343.8 L405.2,346.5 L404.7,349.9 L402.5,352.5 L400.3,354.5 L397.5,355.6 L394.3,353.8 L391.0,352.5 L388.8,350.9 L386.8,349.1 L385.0,347.0 L382.3,347.3 L380.0,348.8 L379.1,351.6 L377.0,353.8 L377.5,356.2 L377.0,358.8 L379.6,361.2 L382.0,363.8 L380.6,366.0 L379.8,368.6 L378.8,371.0 L377.4,374.1 L377.5,377.5 L375.6,380.8 L372.7,380.7 L370.0,382.0 L368.4,384.2 L365.8,385.4 L363.6,386.9 L362.1,389.3 L360.0,391.0 L357.9,393.0 L355.0,393.5 L352.2,394.1 L350.0,396.0 L346.9,397.3 L343.8,398.8 L346.0,399.9 L347.8,401.8 L350.1,402.9 L352.5,403.8 L354.4,400.7 L357.5,398.8 L360.4,399.3 L363.4,399.5 L366.0,401.0 L367.2,403.4 L367.9,406.0 L369.7,408.1 L371.6,410.1 L372.9,412.4 L373.8,415.0 L375.0,417.7 L376.3,420.3 L376.2,423.4 L377.5,426.1 L378.8,428.8 L382.1,430.3 L385.0,432.5 L383.1,434.7 L381.5,437.2 L380.9,440.2 L379.2,442.6 L377.5,445.0 L376.6,448.1 L375.3,451.0 L373.8,453.8 L371.2,453.4 L368.8,453.6 L366.2,453.9 L363.8,453.8 L362.7,456.6 L361.5,459.5 L361.0,462.5 L360.3,465.3 L359.9,468.1 L360.0,471.0 L357.6,471.7 L355.3,472.9 L353.1,474.2 L350.5,474.3 L348.3,475.7 L345.8,475.9 L343.2,476.2 L341.0,477.5 L339.8,474.3 L338.8,471.0 L335.8,469.9 L333.2,468.3 L331.0,466.0 L327.9,465.4 L324.9,464.8 L321.9,464.1 L318.8,463.8 L316.5,461.3 L314.0,459.0 L312.5,456.0 L310.3,454.6 L308.2,452.9 L306.3,451.0 L303.8,450.0 L301.1,449.9 L298.6,449.4 L296.0,449.2 L293.6,447.9 L291.0,447.5 L289.3,445.4 L288.5,442.6 L287.1,440.3 L285.8,437.9 L283.8,436.0 L281.9,433.5 L279.1,432.0 L276.6,430.2 L275.0,427.5 L274.1,425.0 L271.9,423.2 L271.5,420.5 L269.7,418.5 L269.0,415.9 L267.5,413.8 L268.3,410.9 L268.8,408.0 L270.6,405.5 L271.0,402.5 L268.0,403.8 L265.0,405.0 L263.8,402.0 L263.8,398.8 L260.2,397.5 L257.5,395.0 L260.0,394.4 L262.5,394.7 L265.1,394.5 L267.5,393.8 L266.4,391.1 L264.7,388.7 L263.8,386.0 L261.6,384.7 L259.2,384.0 L257.0,382.7 L254.8,381.5 L252.2,381.2 L250.0,380.0 L248.1,377.8 L247.1,375.2 L245.8,372.7 L245.0,370.0 L243.8,366.0 L245.5,363.4 L246.9,360.7 L249.1,358.4 L251.0,356.0"/>
<path d="M130.0,293.8 L130.2,291.0 L129.3,288.3 L129.6,285.5 L129.6,282.7 L128.8,280.0 L127.8,277.6 L127.2,275.1 L127.9,272.3 L127.0,269.9 L126.3,267.4 L125.5,265.0 L125.0,262.5 L125.2,260.0 L124.8,257.5 L124.4,255.0 L124.0,252.5 L124.1,250.0 L123.8,247.5 L121.9,245.3 L121.0,242.6 L120.6,239.7 L118.8,237.5 L120.2,235.2 L119.9,232.4 L121.0,230.0 L122.8,227.7 L124.1,225.2 L124.4,222.1 L126.5,220.0 L127.8,217.5 L128.7,214.8 L130.2,212.4 L131.0,209.6 L132.0,207.0 L134.1,205.2 L135.8,203.2 L137.9,201.4 L139.2,198.9 L141.9,197.8 L143.7,195.8 L145.2,193.4 L147.3,191.7 L149.0,189.6 L150.6,187.3 L151.3,184.7 L152.1,182.2 L152.2,179.3 L153.3,176.9 L154.2,174.4 L155.6,172.0 L158.5,171.3 L161.6,171.5 L164.5,170.8 L167.5,171.0 L170.0,167.0 L172.5,167.6 L175.0,166.0 L177.5,166.4 L180.0,166.9 L182.5,166.6 L185.0,166.0 L186.2,163.5 L186.5,160.7 L186.8,157.9 L188.2,155.5 L187.9,152.5 L189.0,150.0 L191.2,147.7 L192.8,144.9 L194.0,142.0"/>
<path d="M251.0,356.0 L250.4,354.5 L249.6,352.5 L248.6,350.0 L247.5,347.4 L246.3,344.8 L245.0,342.5 L243.7,340.3 L242.2,338.2 L240.7,336.0 L239.0,333.9 L237.1,331.9 L235.0,330.0 L232.5,328.2 L229.7,326.6 L226.7,325.1 L223.6,323.5 L220.5,321.9 L217.5,320.0 L214.6,317.8 L211.6,315.4 L208.6,312.9 L205.6,310.4 L202.8,308.1 L200.0,306.0 L197.3,304.2 L194.7,302.7 L192.2,301.3 L189.7,300.0 L187.3,298.7 L185.0,297.5 L182.9,296.2 L181.0,295.0 L179.2,293.8 L177.3,292.7 L175.1,291.7 L172.5,291.0 L169.2,290.5 L165.4,290.1 L161.2,289.9 L157.1,289.8 L153.3,289.8 L150.0,290.0 L147.3,290.4 L144.9,291.0 L142.8,291.8 L140.9,292.6 L139.2,293.3 L137.5,293.8 L135.9,294.0 L134.4,294.0 L133.0,294.0 L131.8,293.9 L130.8,293.8 L130.0,293.8" stroke-width="1.1"/>
<path d="M281.5,187.0 L283.0,189.5 L284.4,192.0 L284.5,195.0 L286.0,197.5 L285.2,200.4 L284.7,203.4 L283.0,206.0 L280.4,207.0 L277.5,206.4 L275.0,207.5 L273.9,210.5 L272.0,213.0 L268.9,212.9 L266.1,211.3 L263.1,211.1 L260.0,211.0 L257.7,212.2 L255.3,212.9 L252.7,213.1 L250.5,214.5 L248.0,215.0 L246.0,217.7 L243.3,219.6 L241.0,222.0 L240.2,224.4 L238.8,226.6 L238.0,229.0 L240.5,229.7 L242.4,231.5 L245.0,232.0 L248.0,232.7 L251.0,233.5 L252.9,236.6 L254.0,240.0 L254.9,242.4 L254.3,245.0 L254.5,247.5 L255.0,250.0 L256.5,252.3 L258.3,254.3 L259.0,257.0 L259.8,259.7 L260.0,262.5 L259.9,265.2 L258.3,267.5 L257.5,270.0 L257.0,272.5 L257.0,275.0 L258.3,277.5 L258.0,280.0 L257.8,282.5 L257.4,285.0 L257.3,287.5 L257.0,290.0 L256.8,292.5 L256.8,295.0 L257.7,297.5 L257.4,300.0 L257.5,302.5 L256.2,304.9 L256.1,307.7 L254.7,310.1 L253.1,312.4 L252.5,315.0 L252.8,317.5 L251.8,320.0 L252.9,322.5 L252.6,325.0 L252.1,327.5 L252.9,330.0 L252.5,332.5 L253.1,335.4 L253.5,338.4 L255.0,341.0 L255.1,344.1 L253.4,346.9 L253.8,350.0 L253.1,353.3 L251.0,356.0"/>
<path d="M255.0,341.0 L257.5,340.4 L260.1,341.1 L262.6,341.0 L265.0,340.0 L267.4,341.3 L269.8,342.4 L272.5,342.7 L275.0,343.8 L277.3,345.3 L279.8,346.1 L282.7,345.9 L285.0,347.5 L287.5,347.3 L290.0,348.2 L292.5,347.8 L295.0,348.9 L297.5,348.8 L300.3,349.6 L303.0,350.1 L306.0,349.3 L308.8,350.0 L310.0,347.2 L311.5,344.6 L313.8,342.5 L316.7,341.7 L319.7,341.3 L322.5,340.0 L325.0,340.2 L327.5,339.8 L330.0,339.4 L333.8,337.5 L335.1,334.6 L337.5,332.5 L339.7,334.6 L342.5,336.0 L346.0,338.0 L348.6,339.6 L350.5,342.1 L353.0,343.8 L352.5,339.4 L354.2,337.5 L356.4,336.1 L358.6,334.8 L360.1,332.7 L362.0,331.0 L360.6,328.6 L358.6,326.6 L357.0,324.4 L358.0,322.5 L360.5,321.4 L363.4,321.9 L366.0,321.0 L366.9,323.5 L367.5,326.0 L364.4,328.1 L362.0,331.0 L362.8,333.5 L363.8,336.0 L366.0,337.0 L368.5,335.7 L370.5,333.8 L371.8,331.2 L374.4,330.0 L377.0,328.6 L378.3,325.7 L381.0,324.4 L382.9,326.4 L384.1,328.8 L385.0,331.5 L386.9,333.5 L388.6,335.7 L390.0,338.0 L392.3,336.6 L394.0,334.3 L396.7,333.3 L398.1,330.8 L400.5,329.4 L402.5,327.5"/>
<path d="M353.8,157.5 L355.4,159.9 L356.0,162.9 L358.4,164.8 L359.8,167.4 L361.6,169.7 L362.5,172.5 L363.4,175.0 L365.0,177.3 L365.1,180.1 L366.8,182.4 L367.5,185.0 L368.9,187.4 L369.7,190.0 L371.0,192.3 L372.1,194.8 L372.3,197.7 L373.8,200.0 L375.9,201.6 L378.4,202.8 L380.0,205.0 L380.1,208.1 L381.8,210.8 L382.5,213.8 L383.9,217.2 L383.8,221.0 L381.0,224.0 L377.5,223.8 L374.9,224.3 L372.5,225.6 L370.6,230.0 L371.3,232.6 L372.5,235.0 L375.4,237.1 L377.5,240.0 L380.6,237.0 L383.1,235.5 L386.0,235.6 L388.2,233.7 L390.7,232.3 L393.0,230.6 L395.8,229.0 L398.8,227.5 L402.0,230.0 L404.5,229.4 L407.0,230.0 L407.2,227.5 L407.5,225.0 L410.0,224.4 L412.5,223.4 L415.0,222.5 L418.1,223.6 L421.0,225.0 L423.6,227.6 L425.0,231.0 L425.7,234.2 L426.0,237.5 L428.0,238.8 L427.9,241.6 L428.2,244.4 L428.1,247.2 L427.5,250.0 L428.1,252.8 L430.0,255.0 L431.9,257.7 L432.4,260.9 L433.8,263.8 L438.0,266.0 L439.4,269.1 L440.0,272.5 L442.4,274.7 L443.4,278.0 L446.0,280.0 L448.3,278.4 L451.3,278.9 L453.8,277.5 L456.6,279.7 L458.8,282.5 L459.5,285.3 L460.2,288.1 L460.0,291.0"/>
<path d="M409.4,225.0 L409.1,228.1 L410.0,231.0 L411.7,234.3 L415.0,236.0 L417.0,238.1 L417.5,241.0" stroke-width="2.2"/>
</g>
<g fill="#e6f51d" stroke="#9aa814" stroke-width="0.6">
<circle cx="269.5" cy="259.5" r="4.2"/>
<circle cx="266" cy="263" r="4.2"/>
<circle cx="299.5" cy="264.5" r="4.2"/>
<circle cx="413.4" cy="216.5" r="4.2"/>
<circle cx="387.7" cy="231.2" r="4.2"/>
<circle cx="390" cy="232.3" r="4.2"/>
<circle cx="380.4" cy="244.6" r="4.2"/>
<circle cx="400.6" cy="242.3" r="4.2"/>
<circle cx="402.5" cy="243.5" r="4.2"/>
<circle cx="481" cy="187.5" r="4.2"/>
<circle cx="483.7" cy="188" r="4.2"/>
<circle cx="352.3" cy="304.3" r="4.2"/>
<circle cx="350.6" cy="310.4" r="4.2"/>
<circle cx="292" cy="325" r="4.2"/>
<circle cx="314.7" cy="378.2" r="4.2"/>
<circle cx="316" cy="378" r="4.2"/>
</g>
<g fill="#fff" stroke="#e4e4e4" stroke-width="0.4">
<path d="M330.6,304.59999999999997 l4.6,4.6 l-4.6,4.6 l-4.6,-4.6 Z"/>
<path d="M298.7,328.4 l4.6,4.6 l-4.6,4.6 l-4.6,-4.6 Z"/>
<path d="M318.6,328.4 l4.6,4.6 l-4.6,4.6 l-4.6,-4.6 Z"/>
</g>
<text x="288.7" y="39.3" font-family="Liberation Sans, sans-serif" font-size="23.6" textLength="100" lengthAdjust="spacingAndGlyphs" fill="#111">Análisis 3</text>
<g font-family="Liberation Sans, sans-serif" fill="#000" stroke="#000" stroke-width="0.22">
<text x="587.6" y="130.8" font-size="14" textLength="53.4" lengthAdjust="spacingAndGlyphs">Leyenda</text>
<text x="611" y="153.4" font-size="11.6" textLength="104" lengthAdjust="spacingAndGlyphs">Centrales propuestas</text>
<text x="611" y="174.6" font-size="11.6" textLength="99.4" lengthAdjust="spacingAndGlyphs">Centrales existentes</text>
<text x="587.6" y="197.4" font-size="11.6" textLength="53.4" lengthAdjust="spacingAndGlyphs">Puntuación</text>
<rect x="586.8" y="207.4" width="19.2" height="10.6" fill="#bababa" stroke="rgba(90,90,90,0.35)" stroke-width="0.6"/>
<text x="611" y="217.1" font-size="11.6" textLength="16" lengthAdjust="spacingAndGlyphs">0.0</text>
<rect x="586.8" y="223.6" width="19.2" height="10.6" fill="#4d9fb3" stroke="rgba(90,90,90,0.35)" stroke-width="0.6"/>
<text x="611" y="233.3" font-size="11.6" textLength="16" lengthAdjust="spacingAndGlyphs">0.1</text>
<rect x="586.8" y="239.8" width="19.2" height="10.6" fill="#88c9a8" stroke="rgba(90,90,90,0.35)" stroke-width="0.6"/>
<text x="611" y="249.5" font-size="11.6" textLength="16" lengthAdjust="spacingAndGlyphs">0.2</text>
<rect x="586.8" y="256.0" width="19.2" height="10.6" fill="#b0e0a0" stroke="rgba(90,90,90,0.35)" stroke-width="0.6"/>
<text x="611" y="265.7" font-size="11.6" textLength="16" lengthAdjust="spacingAndGlyphs">0.3</text>
<rect x="586.8" y="272.2" width="19.2" height="10.6" fill="#dbf0b0" stroke="rgba(90,90,90,0.35)" stroke-width="0.6"/>
<text x="611" y="281.9" font-size="11.6" textLength="16" lengthAdjust="spacingAndGlyphs">0.4</text>
<rect x="586.8" y="288.4" width="19.2" height="10.6" fill="#ffffbf" stroke="rgba(90,90,90,0.35)" stroke-width="0.6"/>
<text x="611" y="298.1" font-size="11.6" textLength="16" lengthAdjust="spacingAndGlyphs">0.5</text>
<rect x="586.8" y="304.6" width="19.2" height="10.6" fill="#fedd95" stroke="rgba(90,90,90,0.35)" stroke-width="0.6"/>
<text x="611" y="314.3" font-size="11.6" textLength="16" lengthAdjust="spacingAndGlyphs">0.6</text>
<rect x="586.8" y="320.8" width="19.2" height="10.6" fill="#fdbe74" stroke="rgba(90,90,90,0.35)" stroke-width="0.6"/>
<text x="611" y="330.5" font-size="11.6" textLength="16" lengthAdjust="spacingAndGlyphs">0.7</text>
<rect x="586.8" y="337.0" width="19.2" height="10.6" fill="#f58d50" stroke="rgba(90,90,90,0.35)" stroke-width="0.6"/>
<text x="611" y="346.7" font-size="11.6" textLength="16" lengthAdjust="spacingAndGlyphs">0.8</text>
<rect x="586.8" y="353.2" width="19.2" height="10.6" fill="#e5563a" stroke="rgba(90,90,90,0.35)" stroke-width="0.6"/>
<text x="611" y="362.9" font-size="11.6" textLength="16" lengthAdjust="spacingAndGlyphs">0.9</text>
<rect x="586.8" y="369.4" width="19.2" height="10.6" fill="#b80a0a" stroke="rgba(90,90,90,0.35)" stroke-width="0.6"/>
<text x="611" y="379.1" font-size="11.6" textLength="16" lengthAdjust="spacingAndGlyphs">1.0</text>
</g>
<path d="M596,144 l5,5 l-5,5 l-5,-5 Z" fill="#fff" stroke="#c9c9c9" stroke-width="0.7"/>
<circle cx="596.4" cy="170.4" r="3.8" fill="#e6f51d" stroke="#9aa814" stroke-width="0.6"/>
<rect x="157.5" y="513" width="340.5" height="10.6" rx="1.2" fill="#000"/>
<rect x="193.8" y="515.7" width="31.19999999999999" height="5.5" fill="#fff"/>
<rect x="295" y="515.7" width="65.5" height="5.5" fill="#fff"/>
<rect x="430.5" y="515.7" width="65.10000000000002" height="5.5" fill="#fff"/>
<g font-family="Liberation Sans, sans-serif" font-size="11.4" fill="#000" stroke="#000" stroke-width="0.2" text-anchor="middle">
<text x="158.8" y="507">50</text>
<text x="226.2" y="507">0</text>
<text x="293.8" y="507">50</text>
<text x="362" y="507">100</text>
<text x="429.3" y="507">150</text>
<text x="487.5" y="507" text-anchor="start" textLength="37" lengthAdjust="spacingAndGlyphs">200 km</text>
</g>
</svg>
</body></html>
